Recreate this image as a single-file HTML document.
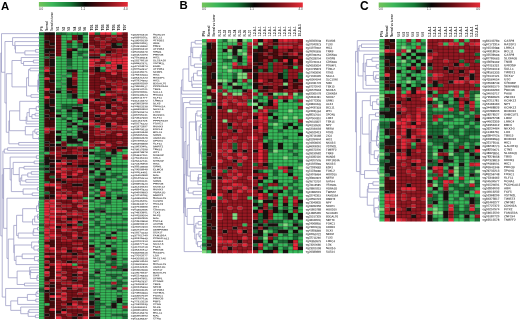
<!DOCTYPE html>
<html><head><meta charset="utf-8"><title>Methylation heatmaps</title><style>
html,body{margin:0;padding:0;background:#fff;}
body{width:520px;height:321px;overflow:hidden;}
svg{display:block;filter:blur(0.3px);}
text{font-family:"Liberation Sans",sans-serif;}
</style></head><body>
<svg width="520" height="321" viewBox="0 0 520 321">
<g font-size="30" fill="#3a3a3a" font-weight="normal">
<path fill="#36b85a" d="M39 34.95h5.3v31.86h-5.3zM39 69.46h5.3v2.65h-5.3zM39 74.77h5.3v76.98h-5.3zM39 154.41h5.3v5.31h-5.3zM39 170.34h5.3v26.55h-5.3zM39 199.54h5.3v23.89h-5.3zM39 226.09h5.3v5.31h-5.3zM39 234.05h5.3v53.09h-5.3zM39 292.45h5.3v26.55h-5.3zM44.3 151.76h5.3v2.65h-5.3zM44.3 303.07h5.3v2.65h-5.3zM55.9 56.19h5.38v23.89h-5.38zM55.9 82.74h5.38v5.31h-5.38zM55.9 93.36h5.38v15.93h-5.38zM55.9 111.94h5.38v2.65h-5.38zM55.9 117.25h5.38v13.27h-5.38zM55.9 133.18h5.38v2.65h-5.38zM55.9 141.14h5.38v2.65h-5.38zM61.28 34.95h5.38v39.82h-5.38zM61.28 77.43h5.38v5.31h-5.38zM61.28 85.39h5.38v18.58h-5.38zM61.28 109.28h5.38v7.96h-5.38zM61.28 119.9h5.38v21.24h-5.38zM66.67 34.95h5.38v5.31h-5.38zM66.67 74.77h5.38v2.65h-5.38zM66.67 98.67h5.38v5.31h-5.38zM66.67 117.25h5.38v2.65h-5.38zM66.67 127.87h5.38v2.65h-5.38zM66.67 133.18h5.38v2.65h-5.38zM66.67 143.79h5.38v2.65h-5.38zM72.05 40.26h5.38v7.96h-5.38zM72.05 50.88h5.38v18.58h-5.38zM72.05 98.67h5.38v5.31h-5.38zM72.05 111.94h5.38v10.62h-5.38zM72.05 125.21h5.38v10.62h-5.38zM72.05 143.79h5.38v2.65h-5.38zM72.05 263.25h5.38v2.65h-5.38zM77.43 48.23h5.38v2.65h-5.38zM77.43 56.19h5.38v42.47h-5.38zM77.43 119.9h5.38v5.31h-5.38zM77.43 138.49h5.38v2.65h-5.38zM82.82 34.95h5.38v7.96h-5.38zM82.82 48.23h5.38v2.65h-5.38zM82.82 53.54h5.38v2.65h-5.38zM82.82 58.85h5.38v10.62h-5.38zM82.82 72.12h5.38v26.55h-5.38zM82.82 103.97h5.38v7.96h-5.38zM82.82 122.56h5.38v2.65h-5.38zM82.82 141.14h5.38v5.31h-5.38zM82.82 196.89h5.38v2.65h-5.38zM89.1 149.1h5.53v2.65h-5.53zM89.1 154.41h5.53v5.31h-5.53zM89.1 167.69h5.53v2.65h-5.53zM89.1 175.65h5.53v2.65h-5.53zM89.1 186.27h5.53v2.65h-5.53zM89.1 191.58h5.53v2.65h-5.53zM89.1 196.89h5.53v2.65h-5.53zM89.1 202.2h5.53v7.96h-5.53zM89.1 212.81h5.53v5.31h-5.53zM89.1 220.78h5.53v5.31h-5.53zM89.1 228.74h5.53v5.31h-5.53zM89.1 236.71h5.53v2.65h-5.53zM89.1 242.02h5.53v2.65h-5.53zM89.1 252.63h5.53v2.65h-5.53zM89.1 257.94h5.53v15.93h-5.53zM89.1 279.18h5.53v2.65h-5.53zM89.1 284.49h5.53v2.65h-5.53zM94.63 146.45h5.53v5.31h-5.53zM94.63 157.07h5.53v2.65h-5.53zM94.63 170.34h5.53v5.31h-5.53zM94.63 188.92h5.53v2.65h-5.53zM94.63 194.23h5.53v2.65h-5.53zM94.63 199.54h5.53v7.96h-5.53zM94.63 212.81h5.53v2.65h-5.53zM94.63 218.12h5.53v2.65h-5.53zM94.63 226.09h5.53v7.96h-5.53zM94.63 236.71h5.53v10.62h-5.53zM94.63 249.98h5.53v2.65h-5.53zM94.63 255.29h5.53v2.65h-5.53zM94.63 263.25h5.53v5.31h-5.53zM94.63 273.87h5.53v2.65h-5.53zM94.63 279.18h5.53v13.27h-5.53zM94.63 295.11h5.53v2.65h-5.53zM100.16 53.54h5.53v2.65h-5.53zM100.16 66.81h5.53v2.65h-5.53zM100.16 93.36h5.53v2.65h-5.53zM100.16 159.72h5.53v5.31h-5.53zM100.16 167.69h5.53v2.65h-5.53zM100.16 180.96h5.53v5.31h-5.53zM100.16 196.89h5.53v5.31h-5.53zM100.16 204.85h5.53v2.65h-5.53zM100.16 212.81h5.53v13.27h-5.53zM100.16 228.74h5.53v2.65h-5.53zM100.16 234.05h5.53v7.96h-5.53zM100.16 244.67h5.53v5.31h-5.53zM100.16 252.63h5.53v7.96h-5.53zM100.16 263.25h5.53v18.58h-5.53zM100.16 284.49h5.53v18.58h-5.53zM100.16 305.73h5.53v13.27h-5.53zM105.69 151.76h5.53v2.65h-5.53zM105.69 170.34h5.53v5.31h-5.53zM105.69 178.3h5.53v2.65h-5.53zM105.69 183.61h5.53v7.96h-5.53zM105.69 204.85h5.53v7.96h-5.53zM105.69 215.47h5.53v2.65h-5.53zM105.69 220.78h5.53v2.65h-5.53zM105.69 226.09h5.53v7.96h-5.53zM105.69 239.36h5.53v5.31h-5.53zM105.69 247.32h5.53v7.96h-5.53zM105.69 260.6h5.53v2.65h-5.53zM105.69 265.91h5.53v2.65h-5.53zM105.69 271.22h5.53v2.65h-5.53zM105.69 276.53h5.53v5.31h-5.53zM105.69 284.49h5.53v2.65h-5.53zM105.69 289.8h5.53v15.93h-5.53zM105.69 308.38h5.53v10.62h-5.53zM111.21 32.3h5.53v2.65h-5.53zM111.21 157.07h5.53v7.96h-5.53zM111.21 167.69h5.53v5.31h-5.53zM111.21 178.3h5.53v10.62h-5.53zM111.21 191.58h5.53v21.24h-5.53zM111.21 215.47h5.53v7.96h-5.53zM111.21 226.09h5.53v5.31h-5.53zM111.21 234.05h5.53v2.65h-5.53zM111.21 239.36h5.53v2.65h-5.53zM111.21 244.67h5.53v2.65h-5.53zM111.21 271.22h5.53v2.65h-5.53zM111.21 279.18h5.53v2.65h-5.53zM111.21 289.8h5.53v10.62h-5.53zM111.21 308.38h5.53v5.31h-5.53zM111.21 316.35h5.53v2.65h-5.53zM116.74 151.76h5.53v13.27h-5.53zM116.74 167.69h5.53v5.31h-5.53zM116.74 175.65h5.53v2.65h-5.53zM116.74 180.96h5.53v7.96h-5.53zM116.74 191.58h5.53v2.65h-5.53zM116.74 199.54h5.53v13.27h-5.53zM116.74 215.47h5.53v7.96h-5.53zM116.74 226.09h5.53v2.65h-5.53zM116.74 231.4h5.53v34.51h-5.53zM116.74 271.22h5.53v2.65h-5.53zM116.74 276.53h5.53v2.65h-5.53zM116.74 287.14h5.53v2.65h-5.53zM116.74 292.45h5.53v2.65h-5.53zM116.74 303.07h5.53v10.62h-5.53zM116.74 316.35h5.53v2.65h-5.53zM122.27 149.1h5.53v5.31h-5.53zM122.27 159.72h5.53v5.31h-5.53zM122.27 167.69h5.53v7.96h-5.53zM122.27 178.3h5.53v5.31h-5.53zM122.27 186.27h5.53v7.96h-5.53zM122.27 202.2h5.53v5.31h-5.53zM122.27 210.16h5.53v7.96h-5.53zM122.27 220.78h5.53v2.65h-5.53zM122.27 226.09h5.53v2.65h-5.53zM122.27 231.4h5.53v7.96h-5.53zM122.27 242.02h5.53v15.93h-5.53zM122.27 260.6h5.53v2.65h-5.53zM122.27 271.22h5.53v5.31h-5.53zM122.27 279.18h5.53v2.65h-5.53zM122.27 284.49h5.53v2.65h-5.53zM122.27 289.8h5.53v13.27h-5.53zM122.27 311.04h5.53v2.65h-5.53z"/>
<path fill="#259a4a" d="M39 66.81h5.3v2.65h-5.3zM39 72.12h5.3v2.65h-5.3zM39 151.76h5.3v2.65h-5.3zM39 159.72h5.3v2.65h-5.3zM39 165.03h5.3v2.65h-5.3zM55.9 80.08h5.38v2.65h-5.38zM61.28 74.77h5.38v2.65h-5.38zM61.28 82.74h5.38v2.65h-5.38zM66.67 32.3h5.38v2.65h-5.38zM66.67 66.81h5.38v2.65h-5.38zM72.05 32.3h5.38v2.65h-5.38zM77.43 32.3h5.38v2.65h-5.38z"/>
<path fill="#1a6c36" d="M39 32.3h5.3v2.65h-5.3zM39 162.38h5.3v2.65h-5.3zM39 167.69h5.3v2.65h-5.3zM39 196.89h5.3v2.65h-5.3zM39 223.43h5.3v2.65h-5.3zM39 231.4h5.3v2.65h-5.3zM39 287.14h5.3v5.31h-5.3zM44.3 56.19h5.3v2.65h-5.3zM44.3 165.03h5.3v2.65h-5.3zM44.3 170.34h5.3v2.65h-5.3zM44.3 180.96h5.3v2.65h-5.3zM44.3 191.58h5.3v2.65h-5.3zM49.6 175.65h5.3v2.65h-5.3zM55.9 32.3h5.38v2.65h-5.38zM55.9 88.05h5.38v2.65h-5.38zM55.9 109.28h5.38v2.65h-5.38zM61.28 32.3h5.38v2.65h-5.38zM61.28 103.97h5.38v5.31h-5.38zM61.28 117.25h5.38v2.65h-5.38zM66.67 42.92h5.38v5.31h-5.38zM66.67 58.85h5.38v7.96h-5.38zM66.67 72.12h5.38v2.65h-5.38zM66.67 93.36h5.38v5.31h-5.38zM66.67 103.97h5.38v5.31h-5.38zM66.67 111.94h5.38v5.31h-5.38zM66.67 122.56h5.38v2.65h-5.38zM66.67 130.52h5.38v2.65h-5.38zM72.05 103.97h5.38v2.65h-5.38zM72.05 109.28h5.38v2.65h-5.38zM72.05 135.83h5.38v2.65h-5.38zM77.43 42.92h5.38v5.31h-5.38zM77.43 50.88h5.38v5.31h-5.38zM77.43 103.97h5.38v2.65h-5.38zM77.43 111.94h5.38v5.31h-5.38zM77.43 127.87h5.38v2.65h-5.38zM77.43 143.79h5.38v2.65h-5.38zM77.43 223.43h5.38v2.65h-5.38zM82.82 32.3h5.38v2.65h-5.38zM82.82 50.88h5.38v2.65h-5.38zM82.82 56.19h5.38v2.65h-5.38zM82.82 69.46h5.38v2.65h-5.38zM82.82 117.25h5.38v2.65h-5.38zM82.82 130.52h5.38v2.65h-5.38zM89.1 159.72h5.53v2.65h-5.53zM89.1 165.03h5.53v2.65h-5.53zM89.1 173h5.53v2.65h-5.53zM89.1 178.3h5.53v5.31h-5.53zM89.1 188.92h5.53v2.65h-5.53zM89.1 194.23h5.53v2.65h-5.53zM89.1 199.54h5.53v2.65h-5.53zM89.1 218.12h5.53v2.65h-5.53zM89.1 226.09h5.53v2.65h-5.53zM89.1 234.05h5.53v2.65h-5.53zM89.1 239.36h5.53v2.65h-5.53zM89.1 273.87h5.53v5.31h-5.53zM89.1 281.84h5.53v2.65h-5.53zM89.1 289.8h5.53v2.65h-5.53zM89.1 295.11h5.53v5.31h-5.53zM94.63 32.3h5.53v2.65h-5.53zM94.63 125.21h5.53v2.65h-5.53zM94.63 151.76h5.53v5.31h-5.53zM94.63 162.38h5.53v5.31h-5.53zM94.63 175.65h5.53v2.65h-5.53zM94.63 180.96h5.53v7.96h-5.53zM94.63 191.58h5.53v2.65h-5.53zM94.63 207.51h5.53v5.31h-5.53zM94.63 215.47h5.53v2.65h-5.53zM94.63 220.78h5.53v5.31h-5.53zM94.63 234.05h5.53v2.65h-5.53zM94.63 247.32h5.53v2.65h-5.53zM94.63 252.63h5.53v2.65h-5.53zM94.63 257.94h5.53v5.31h-5.53zM94.63 268.56h5.53v2.65h-5.53zM94.63 276.53h5.53v2.65h-5.53zM94.63 292.45h5.53v2.65h-5.53zM94.63 300.42h5.53v10.62h-5.53zM94.63 313.69h5.53v2.65h-5.53zM100.16 69.46h5.53v2.65h-5.53zM100.16 149.1h5.53v10.62h-5.53zM100.16 165.03h5.53v2.65h-5.53zM100.16 170.34h5.53v2.65h-5.53zM100.16 175.65h5.53v2.65h-5.53zM100.16 202.2h5.53v2.65h-5.53zM100.16 207.51h5.53v2.65h-5.53zM100.16 226.09h5.53v2.65h-5.53zM100.16 231.4h5.53v2.65h-5.53zM100.16 242.02h5.53v2.65h-5.53zM100.16 249.98h5.53v2.65h-5.53zM100.16 260.6h5.53v2.65h-5.53zM100.16 281.84h5.53v2.65h-5.53zM100.16 303.07h5.53v2.65h-5.53zM105.69 61.5h5.53v2.65h-5.53zM105.69 154.41h5.53v2.65h-5.53zM105.69 165.03h5.53v2.65h-5.53zM105.69 175.65h5.53v2.65h-5.53zM105.69 180.96h5.53v2.65h-5.53zM105.69 191.58h5.53v5.31h-5.53zM105.69 199.54h5.53v5.31h-5.53zM105.69 212.81h5.53v2.65h-5.53zM105.69 218.12h5.53v2.65h-5.53zM105.69 223.43h5.53v2.65h-5.53zM105.69 234.05h5.53v2.65h-5.53zM105.69 255.29h5.53v5.31h-5.53zM105.69 263.25h5.53v2.65h-5.53zM105.69 268.56h5.53v2.65h-5.53zM105.69 273.87h5.53v2.65h-5.53zM105.69 281.84h5.53v2.65h-5.53zM105.69 287.14h5.53v2.65h-5.53zM105.69 305.73h5.53v2.65h-5.53zM111.21 154.41h5.53v2.65h-5.53zM111.21 165.03h5.53v2.65h-5.53zM111.21 173h5.53v5.31h-5.53zM111.21 188.92h5.53v2.65h-5.53zM111.21 212.81h5.53v2.65h-5.53zM111.21 223.43h5.53v2.65h-5.53zM111.21 242.02h5.53v2.65h-5.53zM111.21 247.32h5.53v2.65h-5.53zM111.21 255.29h5.53v2.65h-5.53zM111.21 260.6h5.53v5.31h-5.53zM111.21 268.56h5.53v2.65h-5.53zM111.21 273.87h5.53v5.31h-5.53zM111.21 284.49h5.53v2.65h-5.53zM111.21 300.42h5.53v2.65h-5.53zM111.21 313.69h5.53v2.65h-5.53zM116.74 42.92h5.53v2.65h-5.53zM116.74 165.03h5.53v2.65h-5.53zM116.74 173h5.53v2.65h-5.53zM116.74 178.3h5.53v2.65h-5.53zM116.74 188.92h5.53v2.65h-5.53zM116.74 194.23h5.53v2.65h-5.53zM116.74 212.81h5.53v2.65h-5.53zM116.74 223.43h5.53v2.65h-5.53zM116.74 228.74h5.53v2.65h-5.53zM116.74 265.91h5.53v5.31h-5.53zM116.74 273.87h5.53v2.65h-5.53zM116.74 279.18h5.53v7.96h-5.53zM116.74 289.8h5.53v2.65h-5.53zM116.74 295.11h5.53v2.65h-5.53zM116.74 313.69h5.53v2.65h-5.53zM122.27 165.03h5.53v2.65h-5.53zM122.27 175.65h5.53v2.65h-5.53zM122.27 183.61h5.53v2.65h-5.53zM122.27 194.23h5.53v7.96h-5.53zM122.27 207.51h5.53v2.65h-5.53zM122.27 218.12h5.53v2.65h-5.53zM122.27 223.43h5.53v2.65h-5.53zM122.27 228.74h5.53v2.65h-5.53zM122.27 239.36h5.53v2.65h-5.53zM122.27 257.94h5.53v2.65h-5.53zM122.27 263.25h5.53v5.31h-5.53zM122.27 276.53h5.53v2.65h-5.53zM122.27 281.84h5.53v2.65h-5.53zM122.27 303.07h5.53v2.65h-5.53zM122.27 308.38h5.53v2.65h-5.53zM122.27 313.69h5.53v5.31h-5.53z"/>
<path fill="#1a1210" d="M44.3 32.3h5.3v2.65h-5.3zM44.3 40.26h5.3v2.65h-5.3zM44.3 48.23h5.3v5.31h-5.3zM44.3 103.97h5.3v5.31h-5.3zM44.3 114.59h5.3v2.65h-5.3zM44.3 141.14h5.3v2.65h-5.3zM44.3 146.45h5.3v5.31h-5.3zM44.3 157.07h5.3v7.96h-5.3zM44.3 167.69h5.3v2.65h-5.3zM44.3 196.89h5.3v2.65h-5.3zM44.3 289.8h5.3v2.65h-5.3zM44.3 313.69h5.3v2.65h-5.3zM49.6 32.3h5.3v2.65h-5.3zM49.6 42.92h5.3v2.65h-5.3zM49.6 48.23h5.3v2.65h-5.3zM49.6 53.54h5.3v2.65h-5.3zM49.6 58.85h5.3v7.96h-5.3zM49.6 72.12h5.3v2.65h-5.3zM49.6 80.08h5.3v2.65h-5.3zM49.6 90.7h5.3v2.65h-5.3zM49.6 98.67h5.3v5.31h-5.3zM49.6 106.63h5.3v5.31h-5.3zM49.6 117.25h5.3v2.65h-5.3zM49.6 143.79h5.3v2.65h-5.3zM49.6 159.72h5.3v2.65h-5.3zM49.6 165.03h5.3v2.65h-5.3zM49.6 170.34h5.3v2.65h-5.3zM49.6 194.23h5.3v2.65h-5.3zM49.6 284.49h5.3v2.65h-5.3zM49.6 292.45h5.3v2.65h-5.3zM49.6 297.76h5.3v2.65h-5.3zM55.9 90.7h5.38v2.65h-5.38zM55.9 114.59h5.38v2.65h-5.38zM55.9 130.52h5.38v2.65h-5.38zM55.9 135.83h5.38v5.31h-5.38zM55.9 143.79h5.38v2.65h-5.38zM55.9 159.72h5.38v2.65h-5.38zM55.9 178.3h5.38v2.65h-5.38zM55.9 226.09h5.38v2.65h-5.38zM55.9 311.04h5.38v2.65h-5.38zM61.28 146.45h5.38v2.65h-5.38zM61.28 154.41h5.38v2.65h-5.38zM61.28 180.96h5.38v2.65h-5.38zM61.28 308.38h5.38v2.65h-5.38zM66.67 50.88h5.38v7.96h-5.38zM66.67 69.46h5.38v2.65h-5.38zM66.67 77.43h5.38v10.62h-5.38zM66.67 90.7h5.38v2.65h-5.38zM66.67 109.28h5.38v2.65h-5.38zM66.67 119.9h5.38v2.65h-5.38zM66.67 125.21h5.38v2.65h-5.38zM66.67 135.83h5.38v7.96h-5.38zM66.67 154.41h5.38v5.31h-5.38zM66.67 162.38h5.38v2.65h-5.38zM66.67 175.65h5.38v2.65h-5.38zM66.67 196.89h5.38v2.65h-5.38zM66.67 218.12h5.38v2.65h-5.38zM66.67 223.43h5.38v2.65h-5.38zM66.67 249.98h5.38v2.65h-5.38zM66.67 260.6h5.38v2.65h-5.38zM66.67 287.14h5.38v2.65h-5.38zM66.67 303.07h5.38v2.65h-5.38zM72.05 48.23h5.38v2.65h-5.38zM72.05 69.46h5.38v2.65h-5.38zM72.05 85.39h5.38v2.65h-5.38zM72.05 93.36h5.38v5.31h-5.38zM72.05 106.63h5.38v2.65h-5.38zM72.05 122.56h5.38v2.65h-5.38zM72.05 138.49h5.38v5.31h-5.38zM72.05 154.41h5.38v5.31h-5.38zM72.05 183.61h5.38v2.65h-5.38zM72.05 252.63h5.38v2.65h-5.38zM72.05 273.87h5.38v2.65h-5.38zM72.05 279.18h5.38v2.65h-5.38zM72.05 297.76h5.38v2.65h-5.38zM72.05 316.35h5.38v2.65h-5.38zM77.43 34.95h5.38v5.31h-5.38zM77.43 106.63h5.38v5.31h-5.38zM77.43 117.25h5.38v2.65h-5.38zM77.43 125.21h5.38v2.65h-5.38zM77.43 130.52h5.38v7.96h-5.38zM77.43 141.14h5.38v2.65h-5.38zM77.43 165.03h5.38v2.65h-5.38zM77.43 183.61h5.38v2.65h-5.38zM77.43 220.78h5.38v2.65h-5.38zM77.43 236.71h5.38v2.65h-5.38zM77.43 297.76h5.38v2.65h-5.38zM77.43 313.69h5.38v2.65h-5.38zM82.82 42.92h5.38v5.31h-5.38zM82.82 98.67h5.38v5.31h-5.38zM82.82 111.94h5.38v5.31h-5.38zM82.82 119.9h5.38v2.65h-5.38zM82.82 125.21h5.38v5.31h-5.38zM82.82 133.18h5.38v7.96h-5.38zM82.82 149.1h5.38v2.65h-5.38zM82.82 154.41h5.38v2.65h-5.38zM82.82 165.03h5.38v2.65h-5.38zM89.1 56.19h5.53v2.65h-5.53zM89.1 151.76h5.53v2.65h-5.53zM89.1 162.38h5.53v2.65h-5.53zM89.1 170.34h5.53v2.65h-5.53zM89.1 183.61h5.53v2.65h-5.53zM89.1 210.16h5.53v2.65h-5.53zM89.1 244.67h5.53v2.65h-5.53zM89.1 255.29h5.53v2.65h-5.53zM89.1 292.45h5.53v2.65h-5.53zM89.1 300.42h5.53v5.31h-5.53zM89.1 308.38h5.53v5.31h-5.53zM89.1 316.35h5.53v2.65h-5.53zM94.63 56.19h5.53v2.65h-5.53zM94.63 66.81h5.53v5.31h-5.53zM94.63 98.67h5.53v2.65h-5.53zM94.63 114.59h5.53v2.65h-5.53zM94.63 119.9h5.53v2.65h-5.53zM94.63 159.72h5.53v2.65h-5.53zM94.63 167.69h5.53v2.65h-5.53zM94.63 178.3h5.53v2.65h-5.53zM94.63 196.89h5.53v2.65h-5.53zM94.63 271.22h5.53v2.65h-5.53zM94.63 297.76h5.53v2.65h-5.53zM94.63 316.35h5.53v2.65h-5.53zM100.16 90.7h5.53v2.65h-5.53zM100.16 173h5.53v2.65h-5.53zM100.16 178.3h5.53v2.65h-5.53zM100.16 188.92h5.53v2.65h-5.53zM100.16 210.16h5.53v2.65h-5.53zM105.69 50.88h5.53v2.65h-5.53zM105.69 88.05h5.53v2.65h-5.53zM105.69 103.97h5.53v5.31h-5.53zM105.69 122.56h5.53v5.31h-5.53zM105.69 157.07h5.53v2.65h-5.53zM105.69 167.69h5.53v2.65h-5.53zM105.69 196.89h5.53v2.65h-5.53zM105.69 236.71h5.53v2.65h-5.53zM105.69 244.67h5.53v2.65h-5.53zM111.21 42.92h5.53v5.31h-5.53zM111.21 98.67h5.53v2.65h-5.53zM111.21 149.1h5.53v5.31h-5.53zM111.21 231.4h5.53v2.65h-5.53zM111.21 249.98h5.53v2.65h-5.53zM111.21 257.94h5.53v2.65h-5.53zM111.21 287.14h5.53v2.65h-5.53zM111.21 303.07h5.53v5.31h-5.53zM116.74 45.57h5.53v2.65h-5.53zM116.74 64.16h5.53v5.31h-5.53zM116.74 146.45h5.53v2.65h-5.53zM116.74 196.89h5.53v2.65h-5.53zM116.74 297.76h5.53v5.31h-5.53zM122.27 146.45h5.53v2.65h-5.53zM122.27 268.56h5.53v2.65h-5.53z"/>
<path fill="#4a0c0e" d="M44.3 34.95h5.3v5.31h-5.3zM44.3 42.92h5.3v5.31h-5.3zM44.3 53.54h5.3v2.65h-5.3zM44.3 58.85h5.3v7.96h-5.3zM44.3 72.12h5.3v5.31h-5.3zM44.3 80.08h5.3v7.96h-5.3zM44.3 90.7h5.3v5.31h-5.3zM44.3 98.67h5.3v5.31h-5.3zM44.3 109.28h5.3v5.31h-5.3zM44.3 117.25h5.3v10.62h-5.3zM44.3 133.18h5.3v7.96h-5.3zM44.3 143.79h5.3v2.65h-5.3zM44.3 154.41h5.3v2.65h-5.3zM44.3 173h5.3v7.96h-5.3zM44.3 186.27h5.3v5.31h-5.3zM44.3 194.23h5.3v2.65h-5.3zM44.3 242.02h5.3v2.65h-5.3zM44.3 252.63h5.3v2.65h-5.3zM44.3 257.94h5.3v2.65h-5.3zM44.3 263.25h5.3v2.65h-5.3zM44.3 268.56h5.3v2.65h-5.3zM44.3 276.53h5.3v5.31h-5.3zM44.3 284.49h5.3v2.65h-5.3zM44.3 292.45h5.3v10.62h-5.3zM44.3 305.73h5.3v7.96h-5.3zM44.3 316.35h5.3v2.65h-5.3zM49.6 34.95h5.3v7.96h-5.3zM49.6 45.57h5.3v2.65h-5.3zM49.6 50.88h5.3v2.65h-5.3zM49.6 56.19h5.3v2.65h-5.3zM49.6 66.81h5.3v5.31h-5.3zM49.6 74.77h5.3v5.31h-5.3zM49.6 82.74h5.3v7.96h-5.3zM49.6 93.36h5.3v5.31h-5.3zM49.6 103.97h5.3v2.65h-5.3zM49.6 111.94h5.3v5.31h-5.3zM49.6 119.9h5.3v7.96h-5.3zM49.6 130.52h5.3v13.27h-5.3zM49.6 146.45h5.3v5.31h-5.3zM49.6 154.41h5.3v5.31h-5.3zM49.6 162.38h5.3v2.65h-5.3zM49.6 167.69h5.3v2.65h-5.3zM49.6 173h5.3v2.65h-5.3zM49.6 178.3h5.3v5.31h-5.3zM49.6 186.27h5.3v7.96h-5.3zM49.6 196.89h5.3v2.65h-5.3zM49.6 239.36h5.3v7.96h-5.3zM49.6 252.63h5.3v2.65h-5.3zM49.6 257.94h5.3v5.31h-5.3zM49.6 265.91h5.3v13.27h-5.3zM49.6 281.84h5.3v2.65h-5.3zM49.6 287.14h5.3v5.31h-5.3zM49.6 300.42h5.3v7.96h-5.3zM49.6 311.04h5.3v7.96h-5.3z"/>
<path fill="#7a1018" d="M55.9 34.95h5.38v21.24h-5.38zM55.9 146.45h5.38v5.31h-5.38zM55.9 157.07h5.38v2.65h-5.38zM55.9 167.69h5.38v2.65h-5.38zM55.9 173h5.38v5.31h-5.38zM55.9 180.96h5.38v2.65h-5.38zM55.9 188.92h5.38v2.65h-5.38zM55.9 199.54h5.38v2.65h-5.38zM55.9 204.85h5.38v2.65h-5.38zM55.9 212.81h5.38v2.65h-5.38zM55.9 218.12h5.38v5.31h-5.38zM55.9 228.74h5.38v5.31h-5.38zM55.9 236.71h5.38v13.27h-5.38zM55.9 252.63h5.38v7.96h-5.38zM55.9 271.22h5.38v2.65h-5.38zM55.9 276.53h5.38v2.65h-5.38zM55.9 281.84h5.38v7.96h-5.38zM55.9 292.45h5.38v2.65h-5.38zM55.9 297.76h5.38v13.27h-5.38zM55.9 313.69h5.38v2.65h-5.38zM61.28 141.14h5.38v5.31h-5.38zM61.28 151.76h5.38v2.65h-5.38zM61.28 157.07h5.38v2.65h-5.38zM61.28 165.03h5.38v2.65h-5.38zM61.28 178.3h5.38v2.65h-5.38zM61.28 183.61h5.38v5.31h-5.38zM61.28 191.58h5.38v2.65h-5.38zM61.28 199.54h5.38v5.31h-5.38zM61.28 207.51h5.38v2.65h-5.38zM61.28 212.81h5.38v2.65h-5.38zM61.28 220.78h5.38v2.65h-5.38zM61.28 231.4h5.38v5.31h-5.38zM61.28 242.02h5.38v5.31h-5.38zM61.28 252.63h5.38v2.65h-5.38zM61.28 257.94h5.38v5.31h-5.38zM61.28 265.91h5.38v5.31h-5.38zM61.28 273.87h5.38v2.65h-5.38zM61.28 279.18h5.38v2.65h-5.38zM61.28 284.49h5.38v2.65h-5.38zM61.28 289.8h5.38v2.65h-5.38zM61.28 300.42h5.38v2.65h-5.38zM61.28 305.73h5.38v2.65h-5.38zM61.28 313.69h5.38v5.31h-5.38zM66.67 40.26h5.38v2.65h-5.38zM66.67 48.23h5.38v2.65h-5.38zM66.67 88.05h5.38v2.65h-5.38zM66.67 146.45h5.38v7.96h-5.38zM66.67 159.72h5.38v2.65h-5.38zM66.67 165.03h5.38v2.65h-5.38zM66.67 170.34h5.38v5.31h-5.38zM66.67 180.96h5.38v10.62h-5.38zM66.67 194.23h5.38v2.65h-5.38zM66.67 199.54h5.38v5.31h-5.38zM66.67 207.51h5.38v5.31h-5.38zM66.67 215.47h5.38v2.65h-5.38zM66.67 226.09h5.38v2.65h-5.38zM66.67 231.4h5.38v7.96h-5.38zM66.67 242.02h5.38v7.96h-5.38zM66.67 252.63h5.38v2.65h-5.38zM66.67 257.94h5.38v2.65h-5.38zM66.67 265.91h5.38v15.93h-5.38zM66.67 284.49h5.38v2.65h-5.38zM66.67 289.8h5.38v13.27h-5.38zM66.67 308.38h5.38v5.31h-5.38zM66.67 316.35h5.38v2.65h-5.38zM72.05 34.95h5.38v5.31h-5.38zM72.05 72.12h5.38v5.31h-5.38zM72.05 80.08h5.38v5.31h-5.38zM72.05 88.05h5.38v5.31h-5.38zM72.05 146.45h5.38v2.65h-5.38zM72.05 165.03h5.38v2.65h-5.38zM72.05 175.65h5.38v2.65h-5.38zM72.05 180.96h5.38v2.65h-5.38zM72.05 186.27h5.38v7.96h-5.38zM72.05 196.89h5.38v2.65h-5.38zM72.05 202.2h5.38v7.96h-5.38zM72.05 215.47h5.38v2.65h-5.38zM72.05 223.43h5.38v2.65h-5.38zM72.05 228.74h5.38v2.65h-5.38zM72.05 239.36h5.38v2.65h-5.38zM72.05 244.67h5.38v2.65h-5.38zM72.05 249.98h5.38v2.65h-5.38zM72.05 255.29h5.38v2.65h-5.38zM72.05 260.6h5.38v2.65h-5.38zM72.05 268.56h5.38v5.31h-5.38zM72.05 276.53h5.38v2.65h-5.38zM72.05 281.84h5.38v2.65h-5.38zM72.05 289.8h5.38v7.96h-5.38zM72.05 308.38h5.38v7.96h-5.38zM77.43 40.26h5.38v2.65h-5.38zM77.43 149.1h5.38v2.65h-5.38zM77.43 154.41h5.38v2.65h-5.38zM77.43 159.72h5.38v5.31h-5.38zM77.43 173h5.38v5.31h-5.38zM77.43 180.96h5.38v2.65h-5.38zM77.43 186.27h5.38v5.31h-5.38zM77.43 196.89h5.38v2.65h-5.38zM77.43 202.2h5.38v2.65h-5.38zM77.43 207.51h5.38v5.31h-5.38zM77.43 215.47h5.38v2.65h-5.38zM77.43 228.74h5.38v7.96h-5.38zM77.43 239.36h5.38v2.65h-5.38zM77.43 244.67h5.38v2.65h-5.38zM77.43 249.98h5.38v5.31h-5.38zM77.43 257.94h5.38v2.65h-5.38zM77.43 263.25h5.38v2.65h-5.38zM77.43 268.56h5.38v2.65h-5.38zM77.43 273.87h5.38v2.65h-5.38zM77.43 279.18h5.38v5.31h-5.38zM77.43 287.14h5.38v5.31h-5.38zM77.43 295.11h5.38v2.65h-5.38zM77.43 300.42h5.38v5.31h-5.38zM77.43 308.38h5.38v5.31h-5.38zM77.43 316.35h5.38v2.65h-5.38zM82.82 146.45h5.38v2.65h-5.38zM82.82 151.76h5.38v2.65h-5.38zM82.82 159.72h5.38v5.31h-5.38zM82.82 167.69h5.38v7.96h-5.38zM82.82 178.3h5.38v18.58h-5.38zM82.82 199.54h5.38v2.65h-5.38zM82.82 204.85h5.38v2.65h-5.38zM82.82 210.16h5.38v2.65h-5.38zM82.82 218.12h5.38v2.65h-5.38zM82.82 223.43h5.38v7.96h-5.38zM82.82 234.05h5.38v2.65h-5.38zM82.82 239.36h5.38v10.62h-5.38zM82.82 252.63h5.38v2.65h-5.38zM82.82 257.94h5.38v2.65h-5.38zM82.82 263.25h5.38v5.31h-5.38zM82.82 271.22h5.38v15.93h-5.38zM82.82 292.45h5.38v5.31h-5.38zM82.82 303.07h5.38v2.65h-5.38zM82.82 311.04h5.38v5.31h-5.38zM89.1 34.95h5.53v10.62h-5.53zM89.1 48.23h5.53v2.65h-5.53zM89.1 53.54h5.53v2.65h-5.53zM89.1 66.81h5.53v5.31h-5.53zM89.1 74.77h5.53v15.93h-5.53zM89.1 93.36h5.53v5.31h-5.53zM89.1 101.32h5.53v7.96h-5.53zM89.1 111.94h5.53v7.96h-5.53zM89.1 125.21h5.53v18.58h-5.53zM89.1 146.45h5.53v2.65h-5.53zM89.1 247.32h5.53v2.65h-5.53zM89.1 305.73h5.53v2.65h-5.53zM89.1 313.69h5.53v2.65h-5.53zM94.63 34.95h5.53v2.65h-5.53zM94.63 40.26h5.53v7.96h-5.53zM94.63 53.54h5.53v2.65h-5.53zM94.63 61.5h5.53v2.65h-5.53zM94.63 72.12h5.53v26.55h-5.53zM94.63 103.97h5.53v7.96h-5.53zM94.63 117.25h5.53v2.65h-5.53zM94.63 135.83h5.53v5.31h-5.53zM94.63 143.79h5.53v2.65h-5.53zM94.63 311.04h5.53v2.65h-5.53zM100.16 34.95h5.53v5.31h-5.53zM100.16 48.23h5.53v5.31h-5.53zM100.16 58.85h5.53v5.31h-5.53zM100.16 72.12h5.53v5.31h-5.53zM100.16 80.08h5.53v5.31h-5.53zM100.16 88.05h5.53v2.65h-5.53zM100.16 96.01h5.53v5.31h-5.53zM100.16 103.97h5.53v2.65h-5.53zM100.16 109.28h5.53v2.65h-5.53zM100.16 114.59h5.53v10.62h-5.53zM100.16 130.52h5.53v2.65h-5.53zM100.16 135.83h5.53v5.31h-5.53zM100.16 143.79h5.53v2.65h-5.53zM105.69 34.95h5.53v2.65h-5.53zM105.69 40.26h5.53v2.65h-5.53zM105.69 45.57h5.53v5.31h-5.53zM105.69 53.54h5.53v2.65h-5.53zM105.69 72.12h5.53v7.96h-5.53zM105.69 82.74h5.53v5.31h-5.53zM105.69 90.7h5.53v2.65h-5.53zM105.69 96.01h5.53v7.96h-5.53zM105.69 111.94h5.53v5.31h-5.53zM105.69 119.9h5.53v2.65h-5.53zM105.69 127.87h5.53v2.65h-5.53zM105.69 133.18h5.53v10.62h-5.53zM105.69 146.45h5.53v5.31h-5.53zM105.69 159.72h5.53v2.65h-5.53zM111.21 37.61h5.53v5.31h-5.53zM111.21 48.23h5.53v5.31h-5.53zM111.21 74.77h5.53v7.96h-5.53zM111.21 85.39h5.53v2.65h-5.53zM111.21 90.7h5.53v2.65h-5.53zM111.21 96.01h5.53v2.65h-5.53zM111.21 101.32h5.53v2.65h-5.53zM111.21 106.63h5.53v5.31h-5.53zM111.21 114.59h5.53v7.96h-5.53zM111.21 125.21h5.53v2.65h-5.53zM111.21 130.52h5.53v18.58h-5.53zM116.74 34.95h5.53v2.65h-5.53zM116.74 40.26h5.53v2.65h-5.53zM116.74 72.12h5.53v7.96h-5.53zM116.74 93.36h5.53v2.65h-5.53zM116.74 101.32h5.53v5.31h-5.53zM116.74 109.28h5.53v7.96h-5.53zM116.74 119.9h5.53v5.31h-5.53zM116.74 130.52h5.53v2.65h-5.53zM116.74 135.83h5.53v5.31h-5.53zM116.74 143.79h5.53v2.65h-5.53zM122.27 32.3h5.53v15.93h-5.53zM122.27 53.54h5.53v2.65h-5.53zM122.27 77.43h5.53v5.31h-5.53zM122.27 85.39h5.53v5.31h-5.53zM122.27 93.36h5.53v7.96h-5.53zM122.27 103.97h5.53v7.96h-5.53zM122.27 114.59h5.53v10.62h-5.53zM122.27 130.52h5.53v15.93h-5.53zM122.27 157.07h5.53v2.65h-5.53z"/>
<path fill="#b01a26" d="M44.3 66.81h5.3v2.65h-5.3zM44.3 130.52h5.3v2.65h-5.3zM44.3 199.54h5.3v2.65h-5.3zM44.3 215.47h5.3v2.65h-5.3zM44.3 223.43h5.3v5.31h-5.3zM44.3 234.05h5.3v2.65h-5.3zM44.3 239.36h5.3v2.65h-5.3zM44.3 247.32h5.3v5.31h-5.3zM44.3 260.6h5.3v2.65h-5.3zM44.3 273.87h5.3v2.65h-5.3zM44.3 281.84h5.3v2.65h-5.3zM49.6 127.87h5.3v2.65h-5.3zM49.6 151.76h5.3v2.65h-5.3zM49.6 202.2h5.3v2.65h-5.3zM49.6 207.51h5.3v2.65h-5.3zM49.6 212.81h5.3v2.65h-5.3zM49.6 218.12h5.3v2.65h-5.3zM49.6 223.43h5.3v2.65h-5.3zM49.6 228.74h5.3v5.31h-5.3zM49.6 236.71h5.3v2.65h-5.3zM49.6 249.98h5.3v2.65h-5.3zM49.6 255.29h5.3v2.65h-5.3zM49.6 263.25h5.3v2.65h-5.3zM49.6 279.18h5.3v2.65h-5.3zM55.9 151.76h5.38v5.31h-5.38zM55.9 165.03h5.38v2.65h-5.38zM55.9 183.61h5.38v2.65h-5.38zM55.9 191.58h5.38v2.65h-5.38zM55.9 196.89h5.38v2.65h-5.38zM55.9 202.2h5.38v2.65h-5.38zM55.9 207.51h5.38v2.65h-5.38zM55.9 215.47h5.38v2.65h-5.38zM55.9 223.43h5.38v2.65h-5.38zM55.9 234.05h5.38v2.65h-5.38zM55.9 249.98h5.38v2.65h-5.38zM55.9 260.6h5.38v2.65h-5.38zM55.9 279.18h5.38v2.65h-5.38zM55.9 289.8h5.38v2.65h-5.38zM61.28 149.1h5.38v2.65h-5.38zM61.28 159.72h5.38v2.65h-5.38zM61.28 170.34h5.38v2.65h-5.38zM61.28 188.92h5.38v2.65h-5.38zM61.28 204.85h5.38v2.65h-5.38zM61.28 218.12h5.38v2.65h-5.38zM61.28 223.43h5.38v5.31h-5.38zM61.28 236.71h5.38v5.31h-5.38zM61.28 247.32h5.38v2.65h-5.38zM61.28 255.29h5.38v2.65h-5.38zM61.28 271.22h5.38v2.65h-5.38zM61.28 281.84h5.38v2.65h-5.38zM61.28 295.11h5.38v2.65h-5.38zM61.28 303.07h5.38v2.65h-5.38zM66.67 167.69h5.38v2.65h-5.38zM66.67 178.3h5.38v2.65h-5.38zM66.67 191.58h5.38v2.65h-5.38zM66.67 204.85h5.38v2.65h-5.38zM66.67 212.81h5.38v2.65h-5.38zM66.67 220.78h5.38v2.65h-5.38zM66.67 228.74h5.38v2.65h-5.38zM66.67 239.36h5.38v2.65h-5.38zM66.67 255.29h5.38v2.65h-5.38zM66.67 281.84h5.38v2.65h-5.38zM66.67 305.73h5.38v2.65h-5.38zM66.67 313.69h5.38v2.65h-5.38zM72.05 77.43h5.38v2.65h-5.38zM72.05 149.1h5.38v5.31h-5.38zM72.05 159.72h5.38v5.31h-5.38zM72.05 167.69h5.38v5.31h-5.38zM72.05 178.3h5.38v2.65h-5.38zM72.05 194.23h5.38v2.65h-5.38zM72.05 210.16h5.38v2.65h-5.38zM72.05 218.12h5.38v2.65h-5.38zM72.05 231.4h5.38v2.65h-5.38zM72.05 236.71h5.38v2.65h-5.38zM72.05 242.02h5.38v2.65h-5.38zM72.05 247.32h5.38v2.65h-5.38zM72.05 257.94h5.38v2.65h-5.38zM72.05 265.91h5.38v2.65h-5.38zM72.05 287.14h5.38v2.65h-5.38zM72.05 300.42h5.38v2.65h-5.38zM72.05 305.73h5.38v2.65h-5.38zM77.43 101.32h5.38v2.65h-5.38zM77.43 146.45h5.38v2.65h-5.38zM77.43 151.76h5.38v2.65h-5.38zM77.43 157.07h5.38v2.65h-5.38zM77.43 167.69h5.38v2.65h-5.38zM77.43 178.3h5.38v2.65h-5.38zM77.43 194.23h5.38v2.65h-5.38zM77.43 199.54h5.38v2.65h-5.38zM77.43 212.81h5.38v2.65h-5.38zM77.43 218.12h5.38v2.65h-5.38zM77.43 226.09h5.38v2.65h-5.38zM77.43 242.02h5.38v2.65h-5.38zM77.43 255.29h5.38v2.65h-5.38zM77.43 260.6h5.38v2.65h-5.38zM77.43 276.53h5.38v2.65h-5.38zM77.43 292.45h5.38v2.65h-5.38zM82.82 157.07h5.38v2.65h-5.38zM82.82 175.65h5.38v2.65h-5.38zM82.82 202.2h5.38v2.65h-5.38zM82.82 207.51h5.38v2.65h-5.38zM82.82 212.81h5.38v5.31h-5.38zM82.82 220.78h5.38v2.65h-5.38zM82.82 231.4h5.38v2.65h-5.38zM82.82 236.71h5.38v2.65h-5.38zM82.82 249.98h5.38v2.65h-5.38zM82.82 255.29h5.38v2.65h-5.38zM82.82 260.6h5.38v2.65h-5.38zM82.82 268.56h5.38v2.65h-5.38zM82.82 287.14h5.38v5.31h-5.38zM82.82 297.76h5.38v2.65h-5.38zM82.82 305.73h5.38v2.65h-5.38zM89.1 45.57h5.53v2.65h-5.53zM89.1 50.88h5.53v2.65h-5.53zM89.1 72.12h5.53v2.65h-5.53zM89.1 90.7h5.53v2.65h-5.53zM89.1 109.28h5.53v2.65h-5.53zM89.1 119.9h5.53v2.65h-5.53zM89.1 143.79h5.53v2.65h-5.53zM89.1 249.98h5.53v2.65h-5.53zM89.1 287.14h5.53v2.65h-5.53zM94.63 37.61h5.53v2.65h-5.53zM94.63 48.23h5.53v5.31h-5.53zM94.63 64.16h5.53v2.65h-5.53zM94.63 101.32h5.53v2.65h-5.53zM94.63 111.94h5.53v2.65h-5.53zM94.63 122.56h5.53v2.65h-5.53zM94.63 127.87h5.53v7.96h-5.53zM94.63 141.14h5.53v2.65h-5.53zM100.16 40.26h5.53v7.96h-5.53zM100.16 56.19h5.53v2.65h-5.53zM100.16 77.43h5.53v2.65h-5.53zM100.16 85.39h5.53v2.65h-5.53zM100.16 101.32h5.53v2.65h-5.53zM100.16 106.63h5.53v2.65h-5.53zM100.16 133.18h5.53v2.65h-5.53zM100.16 146.45h5.53v2.65h-5.53zM100.16 186.27h5.53v2.65h-5.53zM100.16 194.23h5.53v2.65h-5.53zM105.69 37.61h5.53v2.65h-5.53zM105.69 42.92h5.53v2.65h-5.53zM105.69 56.19h5.53v2.65h-5.53zM105.69 66.81h5.53v2.65h-5.53zM105.69 80.08h5.53v2.65h-5.53zM105.69 109.28h5.53v2.65h-5.53zM105.69 117.25h5.53v2.65h-5.53zM105.69 130.52h5.53v2.65h-5.53zM111.21 34.95h5.53v2.65h-5.53zM111.21 53.54h5.53v5.31h-5.53zM111.21 69.46h5.53v2.65h-5.53zM111.21 82.74h5.53v2.65h-5.53zM111.21 88.05h5.53v2.65h-5.53zM111.21 93.36h5.53v2.65h-5.53zM111.21 103.97h5.53v2.65h-5.53zM111.21 127.87h5.53v2.65h-5.53zM111.21 236.71h5.53v2.65h-5.53zM111.21 252.63h5.53v2.65h-5.53zM111.21 265.91h5.53v2.65h-5.53zM111.21 281.84h5.53v2.65h-5.53zM116.74 37.61h5.53v2.65h-5.53zM116.74 48.23h5.53v10.62h-5.53zM116.74 69.46h5.53v2.65h-5.53zM116.74 80.08h5.53v7.96h-5.53zM116.74 90.7h5.53v2.65h-5.53zM116.74 96.01h5.53v2.65h-5.53zM116.74 106.63h5.53v2.65h-5.53zM116.74 117.25h5.53v2.65h-5.53zM116.74 125.21h5.53v5.31h-5.53zM116.74 141.14h5.53v2.65h-5.53zM116.74 149.1h5.53v2.65h-5.53zM122.27 48.23h5.53v5.31h-5.53zM122.27 72.12h5.53v5.31h-5.53zM122.27 82.74h5.53v2.65h-5.53zM122.27 90.7h5.53v2.65h-5.53zM122.27 101.32h5.53v2.65h-5.53zM122.27 111.94h5.53v2.65h-5.53zM122.27 127.87h5.53v2.65h-5.53zM122.27 154.41h5.53v2.65h-5.53zM122.27 287.14h5.53v2.65h-5.53zM122.27 305.73h5.53v2.65h-5.53z"/>
<path fill="#e8283a" d="M44.3 69.46h5.3v2.65h-5.3zM44.3 77.43h5.3v2.65h-5.3zM44.3 88.05h5.3v2.65h-5.3zM44.3 96.01h5.3v2.65h-5.3zM44.3 127.87h5.3v2.65h-5.3zM44.3 183.61h5.3v2.65h-5.3zM44.3 202.2h5.3v13.27h-5.3zM44.3 218.12h5.3v5.31h-5.3zM44.3 228.74h5.3v5.31h-5.3zM44.3 236.71h5.3v2.65h-5.3zM44.3 244.67h5.3v2.65h-5.3zM44.3 255.29h5.3v2.65h-5.3zM44.3 265.91h5.3v2.65h-5.3zM44.3 271.22h5.3v2.65h-5.3zM44.3 287.14h5.3v2.65h-5.3zM49.6 183.61h5.3v2.65h-5.3zM49.6 199.54h5.3v2.65h-5.3zM49.6 204.85h5.3v2.65h-5.3zM49.6 210.16h5.3v2.65h-5.3zM49.6 215.47h5.3v2.65h-5.3zM49.6 220.78h5.3v2.65h-5.3zM49.6 226.09h5.3v2.65h-5.3zM49.6 234.05h5.3v2.65h-5.3zM49.6 247.32h5.3v2.65h-5.3zM49.6 295.11h5.3v2.65h-5.3zM49.6 308.38h5.3v2.65h-5.3zM55.9 162.38h5.38v2.65h-5.38zM55.9 170.34h5.38v2.65h-5.38zM55.9 186.27h5.38v2.65h-5.38zM55.9 194.23h5.38v2.65h-5.38zM55.9 210.16h5.38v2.65h-5.38zM55.9 263.25h5.38v7.96h-5.38zM55.9 273.87h5.38v2.65h-5.38zM55.9 295.11h5.38v2.65h-5.38zM55.9 316.35h5.38v2.65h-5.38zM61.28 162.38h5.38v2.65h-5.38zM61.28 167.69h5.38v2.65h-5.38zM61.28 173h5.38v5.31h-5.38zM61.28 194.23h5.38v5.31h-5.38zM61.28 210.16h5.38v2.65h-5.38zM61.28 215.47h5.38v2.65h-5.38zM61.28 228.74h5.38v2.65h-5.38zM61.28 249.98h5.38v2.65h-5.38zM61.28 263.25h5.38v2.65h-5.38zM61.28 276.53h5.38v2.65h-5.38zM61.28 287.14h5.38v2.65h-5.38zM61.28 292.45h5.38v2.65h-5.38zM61.28 297.76h5.38v2.65h-5.38zM61.28 311.04h5.38v2.65h-5.38zM66.67 263.25h5.38v2.65h-5.38zM72.05 173h5.38v2.65h-5.38zM72.05 199.54h5.38v2.65h-5.38zM72.05 212.81h5.38v2.65h-5.38zM72.05 220.78h5.38v2.65h-5.38zM72.05 226.09h5.38v2.65h-5.38zM72.05 234.05h5.38v2.65h-5.38zM72.05 284.49h5.38v2.65h-5.38zM72.05 303.07h5.38v2.65h-5.38zM77.43 98.67h5.38v2.65h-5.38zM77.43 170.34h5.38v2.65h-5.38zM77.43 191.58h5.38v2.65h-5.38zM77.43 204.85h5.38v2.65h-5.38zM77.43 247.32h5.38v2.65h-5.38zM77.43 265.91h5.38v2.65h-5.38zM77.43 271.22h5.38v2.65h-5.38zM77.43 284.49h5.38v2.65h-5.38zM77.43 305.73h5.38v2.65h-5.38zM82.82 300.42h5.38v2.65h-5.38zM82.82 308.38h5.38v2.65h-5.38zM82.82 316.35h5.38v2.65h-5.38zM89.1 32.3h5.53v2.65h-5.53zM89.1 58.85h5.53v7.96h-5.53zM89.1 98.67h5.53v2.65h-5.53zM89.1 122.56h5.53v2.65h-5.53zM94.63 58.85h5.53v2.65h-5.53zM100.16 32.3h5.53v2.65h-5.53zM100.16 64.16h5.53v2.65h-5.53zM100.16 111.94h5.53v2.65h-5.53zM100.16 125.21h5.53v5.31h-5.53zM100.16 141.14h5.53v2.65h-5.53zM100.16 191.58h5.53v2.65h-5.53zM105.69 32.3h5.53v2.65h-5.53zM105.69 58.85h5.53v2.65h-5.53zM105.69 64.16h5.53v2.65h-5.53zM105.69 69.46h5.53v2.65h-5.53zM105.69 93.36h5.53v2.65h-5.53zM105.69 143.79h5.53v2.65h-5.53zM105.69 162.38h5.53v2.65h-5.53zM111.21 58.85h5.53v10.62h-5.53zM111.21 72.12h5.53v2.65h-5.53zM111.21 111.94h5.53v2.65h-5.53zM111.21 122.56h5.53v2.65h-5.53zM116.74 32.3h5.53v2.65h-5.53zM116.74 58.85h5.53v5.31h-5.53zM116.74 88.05h5.53v2.65h-5.53zM116.74 98.67h5.53v2.65h-5.53zM116.74 133.18h5.53v2.65h-5.53zM122.27 56.19h5.53v15.93h-5.53zM122.27 125.21h5.53v2.65h-5.53z"/>
<path fill="none" stroke="#140a08" stroke-opacity="0.55" stroke-width="0.55" d="M39 34.95H54.9M39 37.61H54.9M39 40.26H54.9M39 42.92H54.9M39 45.57H54.9M39 48.23H54.9M39 50.88H54.9M39 53.54H54.9M39 56.19H54.9M39 58.85H54.9M39 61.5H54.9M39 64.16H54.9M39 66.81H54.9M39 69.46H54.9M39 72.12H54.9M39 74.77H54.9M39 77.43H54.9M39 80.08H54.9M39 82.74H54.9M39 85.39H54.9M39 88.05H54.9M39 90.7H54.9M39 93.36H54.9M39 96.01H54.9M39 98.67H54.9M39 101.32H54.9M39 103.97H54.9M39 106.63H54.9M39 109.28H54.9M39 111.94H54.9M39 114.59H54.9M39 117.25H54.9M39 119.9H54.9M39 122.56H54.9M39 125.21H54.9M39 127.87H54.9M39 130.52H54.9M39 133.18H54.9M39 135.83H54.9M39 138.49H54.9M39 141.14H54.9M39 143.79H54.9M39 146.45H54.9M39 149.1H54.9M39 151.76H54.9M39 154.41H54.9M39 157.07H54.9M39 159.72H54.9M39 162.38H54.9M39 165.03H54.9M39 167.69H54.9M39 170.34H54.9M39 173H54.9M39 175.65H54.9M39 178.3H54.9M39 180.96H54.9M39 183.61H54.9M39 186.27H54.9M39 188.92H54.9M39 191.58H54.9M39 194.23H54.9M39 196.89H54.9M39 199.54H54.9M39 202.2H54.9M39 204.85H54.9M39 207.51H54.9M39 210.16H54.9M39 212.81H54.9M39 215.47H54.9M39 218.12H54.9M39 220.78H54.9M39 223.43H54.9M39 226.09H54.9M39 228.74H54.9M39 231.4H54.9M39 234.05H54.9M39 236.71H54.9M39 239.36H54.9M39 242.02H54.9M39 244.67H54.9M39 247.32H54.9M39 249.98H54.9M39 252.63H54.9M39 255.29H54.9M39 257.94H54.9M39 260.6H54.9M39 263.25H54.9M39 265.91H54.9M39 268.56H54.9M39 271.22H54.9M39 273.87H54.9M39 276.53H54.9M39 279.18H54.9M39 281.84H54.9M39 284.49H54.9M39 287.14H54.9M39 289.8H54.9M39 292.45H54.9M39 295.11H54.9M39 297.76H54.9M39 300.42H54.9M39 303.07H54.9M39 305.73H54.9M39 308.38H54.9M39 311.04H54.9M39 313.69H54.9M39 316.35H54.9M44.3 32.3V319M49.6 32.3V319M55.9 34.95H88.2M55.9 37.61H88.2M55.9 40.26H88.2M55.9 42.92H88.2M55.9 45.57H88.2M55.9 48.23H88.2M55.9 50.88H88.2M55.9 53.54H88.2M55.9 56.19H88.2M55.9 58.85H88.2M55.9 61.5H88.2M55.9 64.16H88.2M55.9 66.81H88.2M55.9 69.46H88.2M55.9 72.12H88.2M55.9 74.77H88.2M55.9 77.43H88.2M55.9 80.08H88.2M55.9 82.74H88.2M55.9 85.39H88.2M55.9 88.05H88.2M55.9 90.7H88.2M55.9 93.36H88.2M55.9 96.01H88.2M55.9 98.67H88.2M55.9 101.32H88.2M55.9 103.97H88.2M55.9 106.63H88.2M55.9 109.28H88.2M55.9 111.94H88.2M55.9 114.59H88.2M55.9 117.25H88.2M55.9 119.9H88.2M55.9 122.56H88.2M55.9 125.21H88.2M55.9 127.87H88.2M55.9 130.52H88.2M55.9 133.18H88.2M55.9 135.83H88.2M55.9 138.49H88.2M55.9 141.14H88.2M55.9 143.79H88.2M55.9 146.45H88.2M55.9 149.1H88.2M55.9 151.76H88.2M55.9 154.41H88.2M55.9 157.07H88.2M55.9 159.72H88.2M55.9 162.38H88.2M55.9 165.03H88.2M55.9 167.69H88.2M55.9 170.34H88.2M55.9 173H88.2M55.9 175.65H88.2M55.9 178.3H88.2M55.9 180.96H88.2M55.9 183.61H88.2M55.9 186.27H88.2M55.9 188.92H88.2M55.9 191.58H88.2M55.9 194.23H88.2M55.9 196.89H88.2M55.9 199.54H88.2M55.9 202.2H88.2M55.9 204.85H88.2M55.9 207.51H88.2M55.9 210.16H88.2M55.9 212.81H88.2M55.9 215.47H88.2M55.9 218.12H88.2M55.9 220.78H88.2M55.9 223.43H88.2M55.9 226.09H88.2M55.9 228.74H88.2M55.9 231.4H88.2M55.9 234.05H88.2M55.9 236.71H88.2M55.9 239.36H88.2M55.9 242.02H88.2M55.9 244.67H88.2M55.9 247.32H88.2M55.9 249.98H88.2M55.9 252.63H88.2M55.9 255.29H88.2M55.9 257.94H88.2M55.9 260.6H88.2M55.9 263.25H88.2M55.9 265.91H88.2M55.9 268.56H88.2M55.9 271.22H88.2M55.9 273.87H88.2M55.9 276.53H88.2M55.9 279.18H88.2M55.9 281.84H88.2M55.9 284.49H88.2M55.9 287.14H88.2M55.9 289.8H88.2M55.9 292.45H88.2M55.9 295.11H88.2M55.9 297.76H88.2M55.9 300.42H88.2M55.9 303.07H88.2M55.9 305.73H88.2M55.9 308.38H88.2M55.9 311.04H88.2M55.9 313.69H88.2M55.9 316.35H88.2M61.28 32.3V319M66.67 32.3V319M72.05 32.3V319M77.43 32.3V319M82.82 32.3V319M89.1 34.95H127.8M89.1 37.61H127.8M89.1 40.26H127.8M89.1 42.92H127.8M89.1 45.57H127.8M89.1 48.23H127.8M89.1 50.88H127.8M89.1 53.54H127.8M89.1 56.19H127.8M89.1 58.85H127.8M89.1 61.5H127.8M89.1 64.16H127.8M89.1 66.81H127.8M89.1 69.46H127.8M89.1 72.12H127.8M89.1 74.77H127.8M89.1 77.43H127.8M89.1 80.08H127.8M89.1 82.74H127.8M89.1 85.39H127.8M89.1 88.05H127.8M89.1 90.7H127.8M89.1 93.36H127.8M89.1 96.01H127.8M89.1 98.67H127.8M89.1 101.32H127.8M89.1 103.97H127.8M89.1 106.63H127.8M89.1 109.28H127.8M89.1 111.94H127.8M89.1 114.59H127.8M89.1 117.25H127.8M89.1 119.9H127.8M89.1 122.56H127.8M89.1 125.21H127.8M89.1 127.87H127.8M89.1 130.52H127.8M89.1 133.18H127.8M89.1 135.83H127.8M89.1 138.49H127.8M89.1 141.14H127.8M89.1 143.79H127.8M89.1 146.45H127.8M89.1 149.1H127.8M89.1 151.76H127.8M89.1 154.41H127.8M89.1 157.07H127.8M89.1 159.72H127.8M89.1 162.38H127.8M89.1 165.03H127.8M89.1 167.69H127.8M89.1 170.34H127.8M89.1 173H127.8M89.1 175.65H127.8M89.1 178.3H127.8M89.1 180.96H127.8M89.1 183.61H127.8M89.1 186.27H127.8M89.1 188.92H127.8M89.1 191.58H127.8M89.1 194.23H127.8M89.1 196.89H127.8M89.1 199.54H127.8M89.1 202.2H127.8M89.1 204.85H127.8M89.1 207.51H127.8M89.1 210.16H127.8M89.1 212.81H127.8M89.1 215.47H127.8M89.1 218.12H127.8M89.1 220.78H127.8M89.1 223.43H127.8M89.1 226.09H127.8M89.1 228.74H127.8M89.1 231.4H127.8M89.1 234.05H127.8M89.1 236.71H127.8M89.1 239.36H127.8M89.1 242.02H127.8M89.1 244.67H127.8M89.1 247.32H127.8M89.1 249.98H127.8M89.1 252.63H127.8M89.1 255.29H127.8M89.1 257.94H127.8M89.1 260.6H127.8M89.1 263.25H127.8M89.1 265.91H127.8M89.1 268.56H127.8M89.1 271.22H127.8M89.1 273.87H127.8M89.1 276.53H127.8M89.1 279.18H127.8M89.1 281.84H127.8M89.1 284.49H127.8M89.1 287.14H127.8M89.1 289.8H127.8M89.1 292.45H127.8M89.1 295.11H127.8M89.1 297.76H127.8M89.1 300.42H127.8M89.1 303.07H127.8M89.1 305.73H127.8M89.1 308.38H127.8M89.1 311.04H127.8M89.1 313.69H127.8M89.1 316.35H127.8M94.63 32.3V319M100.16 32.3V319M105.69 32.3V319M111.21 32.3V319M116.74 32.3V319M122.27 32.3V319"/>
<path d="M39 36.28H39V38.94H39M39 84.07H38.99V86.72H39M39 81.41H38.97V85.39H38.99M39 44.25H38.95V46.9H39M39 78.76H38.92V83.4H38.97M39 105.3H38.88V107.96H39M39 73.45H38.84V76.1H39M39 203.52H38.79V206.18H39M39 137.16H38.73V139.81H39M39 200.87H38.67V204.85H38.79M39 208.83H38.6V202.86H38.67M39 240.69H38.52V243.34H39M39 89.37H38.44V81.08H38.92M38.84 74.77H38.35V85.23H38.44M39 99.99H38.25V102.65H39M39 259.27H38.15V261.93H39M39 248.65H38.04V251.31H39M39 216.8H37.92V219.45H39M39 92.03H37.8V80H38.35M39 214.14H37.67V218.12H37.92M39 227.42H37.53V230.07H39M39 187.6H37.39V190.25H39M39 275.2H37.23V277.85H39M39 291.13H37.08V293.78H39M39 280.51H36.91V276.53H37.23M39 131.85H36.74V134.5H39M39 211.49H36.57V205.85H38.6M39 155.74H36.38V158.39H39M39 110.61H36.19V106.63H38.88M39 296.44H36V292.45H37.08M39 299.09H35.79V301.74H39M39 49.56H35.58V52.21H39M39 315.02H35.37V317.67H39M39 113.27H35.14V115.92H39M39 129.19H34.91V133.18H36.74M39 222.11H34.68V216.13H37.67M39 256.62H34.43V260.6H38.15M39 161.05H34.18V163.7H39M39 246H33.93V249.98H38.04M39 232.72H33.66V228.74H37.53M39 60.17H33.39V62.83H39M39 235.38H33.11V230.73H33.66M38.73 138.49H32.83V131.18H34.91M39 224.76H32.54V219.12H34.68M39 192.91H32.24V195.56H39M39 118.58H31.94V114.59H35.14M38.52 242.02H31.63V247.99H33.93M39 171.67H31.31V174.32H39M39 94.68H30.99V97.34H39M39 269.89H30.66V272.54H39M36.91 278.52H30.32V271.22H30.66M39 68.14H29.98V70.79H39M39 267.23H29.63V274.87H30.32M36.19 108.62H29.27V116.58H31.94M39 309.71H28.91V312.36H39M37.8 86.01H28.54V69.46H29.98M35.37 316.35H28.16V311.04H28.91M39 176.98H27.78V173H31.31M36 294.44H27.39V300.42H35.79M39 121.23H26.99V112.6H29.27M30.99 96.01H26.58V77.74H28.54M39 123.88H26.17V116.92H26.99M39 179.63H25.76V182.29H39M39 126.54H25.33V134.84H32.83M39 54.86H24.9V50.88H35.58M39 283.16H24.47V285.82H39M39 166.36H24.02V169.01H39M39 65.48H23.57V61.5H33.39M37.39 188.92H23.11V194.23H32.24M36.57 208.67H22.65V221.94H32.54M39 253.96H22.18V258.61H34.43M27.78 174.99H21.7V180.96H25.76M39 57.52H21.22V63.49H23.57M39 307.05H20.73V313.69H28.16M39 184.94H20.23V177.97H21.7M38.25 101.32H19.73V120.4H26.17M24.02 167.69H19.22V181.46H20.23M39 142.47H18.7V145.12H39M39 238.03H18.18V233.06H33.11M39 304.4H17.65V297.43H27.39M29.63 271.05H17.11V284.49H24.47M22.65 215.3H16.57V235.55H18.18M39 264.58H16.01V256.28H22.18M38.95 45.57H15.46V52.87H24.9M39 41.59H14.89V49.22H15.46M31.63 245H14.32V260.43H16.01M16.57 225.42H13.75V252.72H14.32M34.18 162.38H13.16V174.57H19.22M39 37.61H12.57V45.41H14.89M26.58 86.88H11.97V60.51H21.22M23.11 191.58H11.37V168.47H13.16M20.73 310.37H10.76V300.92H17.65M36.38 157.07H10.14V180.03H11.37M25.33 130.69H9.52V110.86H19.73M18.7 143.79H8.89V120.77H9.52M17.11 277.77H8.25V239.07H13.75M39 147.78H7.61V150.43H39M39 198.21H6.96V258.42H8.25M11.97 73.69H6.3V132.28H8.89M39 288.47H5.63V305.64H10.76M12.57 41.51H4.96V102.99H6.3M39 153.09H4.29V149.1H7.61M10.14 168.55H3.6V228.32H6.96M4.29 151.09H2.91V198.43H3.6M5.63 297.06H2.21V174.76H2.91M39 33.63H1.51V72.25H4.96M2.21 235.91H0.8V52.94H1.51" fill="none" stroke="#9494c0" stroke-width="0.7"/>
<g font-weight="bold" style="filter:grayscale(1)" transform="matrix(0.1 0.001 0 0.0767 130.8 0)"><text y="461.24">cg52601815</text><text y="498.63">cg08301661</text><text y="536.03">cg18609139</text><text y="573.42">cg99603082</text><text y="610.82">cg62819482</text><text y="648.22">cg99351819</text><text y="685.61">cg93786579</text><text y="723.01">cg54323194</text><text y="760.4">cg75749118</text><text y="797.8">cg25276018</text><text y="835.19">cg55597971</text><text y="872.59">cg47104974</text><text y="909.98">cg50752917</text><text y="947.38">cg34236671</text><text y="984.78">cg76842684</text><text y="1022.17">cg56321223</text><text y="1059.57">cg07924402</text><text y="1096.96">cg85995289</text><text y="1134.36">cg78666617</text><text y="1171.75">cg60313721</text><text y="1209.15">cg90109281</text><text y="1246.55">cg90139624</text><text y="1283.94">cg95711777</text><text y="1321.34">cg41215472</text><text y="1358.73">cg03852808</text><text y="1396.13">cg14852538</text><text y="1433.52">cg85393363</text><text y="1470.92">cg87500474</text><text y="1508.32">cg95755131</text><text y="1545.71">cg73537990</text><text y="1583.11">cg51163726</text><text y="1620.5">cg51676122</text><text y="1657.9">cg02972997</text><text y="1695.29">cg28820018</text><text y="1732.69">cg63304348</text><text y="1770.08">cg95486205</text><text y="1807.48">cg98682828</text><text y="1844.88">cg07290222</text><text y="1882.27">cg91805888</text><text y="1919.67">cg18033401</text><text y="1957.06">cg78017598</text><text y="1994.46">cg83478878</text><text y="2031.85">cg84837261</text><text y="2069.25">cg75136134</text><text y="2106.65">cg25242731</text><text y="2144.04">cg72326865</text><text y="2181.44">cg35515058</text><text y="2218.83">cg70658948</text><text y="2256.23">cg13114402</text><text y="2293.62">cg26462889</text><text y="2331.02">cg51402614</text><text y="2368.42">cg14193141</text><text y="2405.81">cg05864920</text><text y="2443.21">cg31240234</text><text y="2480.6">cg48347824</text><text y="2518">cg04000883</text><text y="2555.39">cg73716786</text><text y="2592.79">cg43353265</text><text y="2630.18">cg20146201</text><text y="2667.58">cg84934072</text><text y="2704.98">cg47045585</text><text y="2742.37">cg04352056</text><text y="2779.77">cg74833801</text><text y="2817.16">cg12690604</text><text y="2854.56">cg31982965</text><text y="2891.95">cg24920868</text><text y="2929.35">cg88909310</text><text y="2966.75">cg25167800</text><text y="3004.14">cg83740718</text><text y="3041.54">cg18174143</text><text y="3078.93">cg37761740</text><text y="3116.33">cg31925449</text><text y="3153.72">cg20707413</text><text y="3191.12">cg48477718</text><text y="3228.52">cg41704718</text><text y="3265.91">cg46331912</text><text y="3303.31">cg45298415</text><text y="3340.7">cg77602077</text><text y="3378.1">cg42656515</text><text y="3415.49">cg55613044</text><text y="3452.89">cg16691564</text><text y="3490.28">cg41042346</text><text y="3527.68">cg53560688</text><text y="3565.08">cg10679247</text><text y="3602.47">cg82276544</text><text y="3639.87">cg46347861</text><text y="3677.26">cg21387837</text><text y="3714.66">cg76283312</text><text y="3752.05">cg81535493</text><text y="3789.45">cg66683645</text><text y="3826.85">cg74952883</text><text y="3864.24">cg43667640</text><text y="3901.64">cg06797016</text><text y="3939.03">cg77313228</text><text y="3976.43">cg71800239</text><text y="4013.82">cg42486111</text><text y="4051.22">cg89364390</text><text y="4088.62">cg84745378</text><text y="4126.01">cg83064003</text><text y="4163.41">cg61436537</text></g>
<g font-weight="bold" style="filter:grayscale(1)" transform="matrix(0.1 0.001 0 0.0767 152.9 0)"><text y="461.24">HOXD10</text><text y="498.63">BCL11</text><text y="536.03">ATP2B2</text><text y="573.42">IRX4</text><text y="610.82">EBF3</text><text y="648.22">ATP2B2</text><text y="685.61">GRM1</text><text y="723.01">PRKCB</text><text y="760.4">HIC1</text><text y="797.8">SLC6A20</text><text y="835.19">VSTM2L</text><text y="872.59">ESR1</text><text y="909.98">ATP2B2</text><text y="947.38">SFRP1</text><text y="984.78">HIC1</text><text y="1022.17">RASSF1</text><text y="1059.57">HIC1</text><text y="1096.96">B3GALT6</text><text y="1134.36">PPP1R14A</text><text y="1171.75">TBX5</text><text y="1209.15">SALL1</text><text y="1246.55">RUNX3</text><text y="1283.94">KLF11</text><text y="1321.34">LRRC4</text><text y="1358.73">DLX5</text><text y="1396.13">CDKN2A</text><text y="1433.52">NKX2-5</text><text y="1470.92">LHX2</text><text y="1508.32">RASSF1</text><text y="1545.71">KLF11</text><text y="1583.11">PPP1R14A</text><text y="1620.5">FOXC1</text><text y="1657.9">RUNX3</text><text y="1695.29">EGFL8</text><text y="1732.69">BCL11</text><text y="1770.08">GRM1</text><text y="1807.48">ADRA1D</text><text y="1844.88">SPON1</text><text y="1882.27">KLF11</text><text y="1919.67">DMRT2</text><text y="1957.06">TBX15</text><text y="1994.46">WT1</text><text y="2031.85">DAB2IP</text><text y="2069.25">CHL1</text><text y="2106.65">DAB2IP</text><text y="2144.04">HIC1</text><text y="2181.44">GRM1</text><text y="2218.83">ELMO3</text><text y="2256.23">ALX4</text><text y="2293.62">MAL</text><text y="2331.02">NEFM</text><text y="2368.42">GRM1</text><text y="2405.81">PRKCB</text><text y="2443.21">KCNK12</text><text y="2480.6">RUNX3</text><text y="2518">ADRA1D</text><text y="2555.39">DMRT2</text><text y="2592.79">B3GALT6</text><text y="2630.18">CASP8</text><text y="2667.58">HOXA9</text><text y="2704.98">WT1</text><text y="2742.37">CDKN1C</text><text y="2779.77">TLX3</text><text y="2817.16">DLX5</text><text y="2854.56">MAL</text><text y="2891.95">EGFL8</text><text y="2929.35">ACP5B</text><text y="2966.75">KCNK12</text><text y="3004.14">SERPINB5</text><text y="3041.54">SOX17</text><text y="3078.93">FAM150A</text><text y="3116.33">PCDHGA12</text><text y="3153.72">HAND2</text><text y="3191.12">NKX2-5</text><text y="3228.52">FGF5</text><text y="3265.91">PRKCB</text><text y="3303.31">RASSF1</text><text y="3340.7">LOX</text><text y="3378.1">SLC17A6</text><text y="3415.49">NPY</text><text y="3452.89">B3GALT6</text><text y="3490.28">ADRA1D</text><text y="3527.68">SOX17</text><text y="3565.08">B3GALT6</text><text y="3602.47">SIX6</text><text y="3639.87">SFRP1</text><text y="3677.26">PTGDR</text><text y="3714.66">TBX5</text><text y="3752.05">NEFM</text><text y="3789.45">ATP2B2</text><text y="3826.85">VSTM2L</text><text y="3864.24">FOXC1</text><text y="3901.64">PRKCB</text><text y="3939.03">EBF3</text><text y="3976.43">CTNS</text><text y="4013.82">DLX5</text><text y="4051.22">NEFM</text><text y="4088.62">BCL11</text><text y="4126.01">MAL</text><text y="4163.41">CTNS</text></g>
<g font-size="2.9" fill="#333" font-weight="bold" style="filter:grayscale(1)"><text transform="translate(42.52,30.7) rotate(-90)" textLength="4.5" lengthAdjust="spacingAndGlyphs">Plt</text><text transform="translate(47.82,30.7) rotate(-90)" textLength="9.5" lengthAdjust="spacingAndGlyphs">Normal</text><text transform="translate(53.12,30.7) rotate(-90)" textLength="18.5" lengthAdjust="spacingAndGlyphs">Normal vs tumor</text><text transform="translate(59.46,30.7) rotate(-90)" textLength="4.0" lengthAdjust="spacingAndGlyphs">N1</text><text transform="translate(64.84,30.7) rotate(-90)" textLength="4.0" lengthAdjust="spacingAndGlyphs">N2</text><text transform="translate(70.23,30.7) rotate(-90)" textLength="4.0" lengthAdjust="spacingAndGlyphs">N3</text><text transform="translate(75.61,30.7) rotate(-90)" textLength="4.0" lengthAdjust="spacingAndGlyphs">N4</text><text transform="translate(81,30.7) rotate(-90)" textLength="4.0" lengthAdjust="spacingAndGlyphs">N5</text><text transform="translate(86.38,30.7) rotate(-90)" textLength="4.0" lengthAdjust="spacingAndGlyphs">N6</text><text transform="translate(92.73,30.7) rotate(-90)" textLength="6.3" lengthAdjust="spacingAndGlyphs">T01</text><text transform="translate(98.26,30.7) rotate(-90)" textLength="6.3" lengthAdjust="spacingAndGlyphs">T02</text><text transform="translate(103.79,30.7) rotate(-90)" textLength="6.3" lengthAdjust="spacingAndGlyphs">T03</text><text transform="translate(109.32,30.7) rotate(-90)" textLength="6.3" lengthAdjust="spacingAndGlyphs">T04</text><text transform="translate(114.85,30.7) rotate(-90)" textLength="6.3" lengthAdjust="spacingAndGlyphs">T05</text><text transform="translate(120.38,30.7) rotate(-90)" textLength="6.3" lengthAdjust="spacingAndGlyphs">T06</text><text transform="translate(125.91,30.7) rotate(-90)" textLength="6.3" lengthAdjust="spacingAndGlyphs">T07</text></g>
<defs><linearGradient id="cbA" x1="0" x2="1" y1="0" y2="0"><stop offset="0" stop-color="#74c45a"/><stop offset="0.15" stop-color="#3cb65a"/><stop offset="0.35" stop-color="#157a36"/><stop offset="0.52" stop-color="#070505"/><stop offset="0.72" stop-color="#600c12"/><stop offset="1" stop-color="#e82c38"/></linearGradient></defs>
<rect x="38.9" y="2" width="88.9" height="4.7" fill="url(#cbA)"/>
<g font-size="2.7" fill="#333" style="filter:grayscale(1)"><text x="38.9" y="9.5" textLength="4.2" lengthAdjust="spacingAndGlyphs">0.0</text><text x="81.13" y="9.5" textLength="4.0" lengthAdjust="spacingAndGlyphs">1.1</text><text x="123.6" y="9.5" textLength="4.2" lengthAdjust="spacingAndGlyphs">4.0</text></g>
<text x="0.9" y="10.0" font-size="11.4" font-weight="bold" fill="#000">A</text>
<path fill="#80dc80" d="M202 42.25h4.7v3.35h-4.7zM202 249.95h4.7v3.35h-4.7zM206.7 85.8h4.7v3.35h-4.7zM206.7 95.85h4.7v3.35h-4.7zM217.5 79.1h4.96v3.35h-4.96zM222.46 65.7h4.96v3.35h-4.96zM222.46 79.1h4.96v3.35h-4.96zM222.46 92.5h4.96v3.35h-4.96zM222.46 119.3h4.96v3.35h-4.96zM227.41 38.9h4.96v3.35h-4.96zM227.41 48.95h4.96v3.35h-4.96zM227.41 55.65h4.96v3.35h-4.96zM227.41 69.05h4.96v3.35h-4.96zM227.41 109.25h4.96v3.35h-4.96zM232.37 38.9h4.96v3.35h-4.96zM232.37 82.45h4.96v3.35h-4.96zM232.37 92.5h4.96v3.35h-4.96zM232.37 213.1h4.96v6.7h-4.96zM237.33 48.95h4.96v3.35h-4.96zM237.33 72.4h4.96v6.7h-4.96zM237.33 92.5h4.96v3.35h-4.96zM242.29 38.9h4.96v3.35h-4.96zM242.29 52.3h4.96v3.35h-4.96zM242.29 72.4h4.96v6.7h-4.96zM253 102.55h5v3.35h-5zM258 42.25h5v3.35h-5zM258 105.9h5v3.35h-5zM258 199.7h5v3.35h-5zM263 229.85h5v3.35h-5zM263 236.55h5v3.35h-5zM273 92.5h5v3.35h-5zM273 122.65h5v3.35h-5zM273 149.45h5v3.35h-5zM283 82.45h5v3.35h-5zM283 92.5h5v3.35h-5zM283 115.95h5v3.35h-5zM283 156.15h5v3.35h-5zM283 223.15h5v3.35h-5zM288 109.25h5v3.35h-5zM293 92.5h5v3.35h-5zM293 115.95h5v3.35h-5zM298 166.2h5v3.35h-5z"/>
<path fill="#36b85a" d="M202 38.9h4.7v3.35h-4.7zM202 45.6h4.7v16.75h-4.7zM202 69.05h4.7v97.15h-4.7zM202 169.55h4.7v73.7h-4.7zM202 246.6h4.7v3.35h-4.7zM206.7 102.55h4.7v3.35h-4.7zM206.7 182.95h4.7v6.7h-4.7zM206.7 249.95h4.7v3.35h-4.7zM217.5 38.9h4.96v33.5h-4.96zM222.46 42.25h4.96v6.7h-4.96zM222.46 52.3h4.96v6.7h-4.96zM222.46 62.35h4.96v3.35h-4.96zM222.46 69.05h4.96v10.05h-4.96zM222.46 82.45h4.96v6.7h-4.96zM227.41 42.25h4.96v3.35h-4.96zM227.41 52.3h4.96v3.35h-4.96zM227.41 62.35h4.96v6.7h-4.96zM227.41 72.4h4.96v10.05h-4.96zM227.41 85.8h4.96v6.7h-4.96zM232.37 42.25h4.96v3.35h-4.96zM232.37 59h4.96v3.35h-4.96zM232.37 69.05h4.96v3.35h-4.96zM232.37 89.15h4.96v3.35h-4.96zM237.33 52.3h4.96v3.35h-4.96zM237.33 69.05h4.96v3.35h-4.96zM237.33 79.1h4.96v6.7h-4.96zM237.33 89.15h4.96v3.35h-4.96zM242.29 42.25h4.96v10.05h-4.96zM242.29 55.65h4.96v10.05h-4.96zM242.29 82.45h4.96v6.7h-4.96zM242.29 223.15h4.96v3.35h-4.96zM247.24 38.9h4.96v3.35h-4.96zM247.24 79.1h4.96v3.35h-4.96zM247.24 85.8h4.96v3.35h-4.96zM247.24 102.55h4.96v3.35h-4.96zM247.24 196.35h4.96v3.35h-4.96zM253 45.6h5v3.35h-5zM253 89.15h5v3.35h-5zM253 95.85h5v3.35h-5zM253 109.25h5v3.35h-5zM253 206.4h5v3.35h-5zM258 92.5h5v3.35h-5zM258 99.2h5v3.35h-5zM258 182.95h5v3.35h-5zM258 249.95h5v3.35h-5zM263 95.85h5v6.7h-5zM263 139.4h5v3.35h-5zM263 169.55h5v3.35h-5zM263 179.6h5v3.35h-5zM263 189.65h5v3.35h-5zM263 233.2h5v3.35h-5zM263 239.9h5v3.35h-5zM263 246.6h5v3.35h-5zM268 115.95h5v3.35h-5zM268 122.65h5v3.35h-5zM268 129.35h5v10.05h-5zM268 152.8h5v10.05h-5zM268 169.55h5v13.4h-5zM268 186.3h5v3.35h-5zM268 193h5v3.35h-5zM268 203.05h5v3.35h-5zM268 229.85h5v3.35h-5zM268 243.25h5v3.35h-5zM273 112.6h5v3.35h-5zM273 126h5v23.45h-5zM273 152.8h5v16.75h-5zM273 176.25h5v3.35h-5zM273 186.3h5v3.35h-5zM273 213.1h5v6.7h-5zM273 239.9h5v3.35h-5zM278 92.5h5v3.35h-5zM278 99.2h5v30.15h-5zM278 132.7h5v10.05h-5zM278 149.45h5v16.75h-5zM278 169.55h5v13.4h-5zM278 186.3h5v3.35h-5zM278 193h5v16.75h-5zM278 213.1h5v6.7h-5zM278 223.15h5v3.35h-5zM278 233.2h5v6.7h-5zM278 243.25h5v10.05h-5zM283 102.55h5v13.4h-5zM283 119.3h5v3.35h-5zM283 129.35h5v6.7h-5zM283 139.4h5v16.75h-5zM283 159.5h5v6.7h-5zM283 172.9h5v13.4h-5zM283 189.65h5v6.7h-5zM283 219.8h5v3.35h-5zM283 226.5h5v3.35h-5zM283 236.55h5v3.35h-5zM283 243.25h5v3.35h-5zM288 99.2h5v10.05h-5zM288 112.6h5v10.05h-5zM288 126h5v23.45h-5zM288 152.8h5v13.4h-5zM288 176.25h5v6.7h-5zM288 186.3h5v3.35h-5zM288 196.35h5v16.75h-5zM288 219.8h5v6.7h-5zM288 229.85h5v10.05h-5zM288 246.6h5v6.7h-5zM293 65.7h5v3.35h-5zM293 95.85h5v3.35h-5zM293 102.55h5v13.4h-5zM293 119.3h5v6.7h-5zM293 129.35h5v13.4h-5zM293 149.45h5v3.35h-5zM293 156.15h5v20.1h-5zM293 182.95h5v3.35h-5zM293 189.65h5v6.7h-5zM293 213.1h5v6.7h-5zM293 226.5h5v3.35h-5zM293 249.95h5v3.35h-5zM298 95.85h5v3.35h-5zM298 102.55h5v3.35h-5zM298 109.25h5v10.05h-5zM298 126h5v6.7h-5zM298 136.05h5v23.45h-5zM298 162.85h5v3.35h-5zM298 169.55h5v20.1h-5zM298 193h5v6.7h-5zM298 206.4h5v6.7h-5zM298 219.8h5v3.35h-5zM298 229.85h5v3.35h-5zM298 236.55h5v6.7h-5zM298 249.95h5v3.35h-5z"/>
<path fill="#259a4a" d="M202 62.35h4.7v3.35h-4.7zM217.5 72.4h4.96v6.7h-4.96z"/>
<path fill="#1a6c36" d="M202 65.7h4.7v3.35h-4.7zM202 166.2h4.7v3.35h-4.7zM202 243.25h4.7v3.35h-4.7zM206.7 62.35h4.7v3.35h-4.7zM206.7 169.55h4.7v3.35h-4.7zM206.7 179.6h4.7v3.35h-4.7zM206.7 236.55h4.7v3.35h-4.7zM211.4 102.55h4.7v3.35h-4.7zM217.5 89.15h4.96v3.35h-4.96zM217.5 196.35h4.96v3.35h-4.96zM222.46 38.9h4.96v3.35h-4.96zM222.46 59h4.96v3.35h-4.96zM222.46 169.55h4.96v3.35h-4.96zM227.41 59h4.96v3.35h-4.96zM227.41 126h4.96v3.35h-4.96zM232.37 55.65h4.96v3.35h-4.96zM232.37 72.4h4.96v6.7h-4.96zM232.37 142.75h4.96v6.7h-4.96zM237.33 62.35h4.96v3.35h-4.96zM237.33 162.85h4.96v3.35h-4.96zM247.24 82.45h4.96v3.35h-4.96zM247.24 99.2h4.96v3.35h-4.96zM253 162.85h5v3.35h-5zM253 199.7h5v3.35h-5zM253 223.15h5v3.35h-5zM253 229.85h5v3.35h-5zM253 243.25h5v3.35h-5zM258 69.05h5v3.35h-5zM258 95.85h5v3.35h-5zM258 169.55h5v3.35h-5zM258 203.05h5v3.35h-5zM258 213.1h5v10.05h-5zM258 236.55h5v3.35h-5zM263 102.55h5v3.35h-5zM263 136.05h5v3.35h-5zM263 182.95h5v6.7h-5zM263 223.15h5v3.35h-5zM263 243.25h5v3.35h-5zM268 62.35h5v10.05h-5zM268 109.25h5v3.35h-5zM268 119.3h5v3.35h-5zM268 126h5v3.35h-5zM268 139.4h5v13.4h-5zM268 162.85h5v6.7h-5zM268 196.35h5v3.35h-5zM268 206.4h5v3.35h-5zM268 219.8h5v3.35h-5zM268 226.5h5v3.35h-5zM268 246.6h5v3.35h-5zM273 45.6h5v3.35h-5zM273 59h5v3.35h-5zM273 95.85h5v3.35h-5zM273 109.25h5v3.35h-5zM273 119.3h5v3.35h-5zM273 169.55h5v6.7h-5zM273 189.65h5v3.35h-5zM273 219.8h5v3.35h-5zM273 226.5h5v6.7h-5zM273 236.55h5v3.35h-5zM273 243.25h5v3.35h-5zM278 129.35h5v3.35h-5zM278 182.95h5v3.35h-5zM278 209.75h5v3.35h-5zM278 219.8h5v3.35h-5zM278 226.5h5v3.35h-5zM278 239.9h5v3.35h-5zM283 69.05h5v10.05h-5zM283 122.65h5v3.35h-5zM283 136.05h5v3.35h-5zM283 206.4h5v3.35h-5zM283 213.1h5v6.7h-5zM283 233.2h5v3.35h-5zM283 239.9h5v3.35h-5zM283 246.6h5v3.35h-5zM288 149.45h5v3.35h-5zM288 169.55h5v3.35h-5zM288 182.95h5v3.35h-5zM288 189.65h5v6.7h-5zM288 226.5h5v3.35h-5zM288 243.25h5v3.35h-5zM293 99.2h5v3.35h-5zM293 142.75h5v6.7h-5zM293 152.8h5v3.35h-5zM293 179.6h5v3.35h-5zM293 186.3h5v3.35h-5zM293 219.8h5v3.35h-5zM293 233.2h5v6.7h-5zM298 72.4h5v6.7h-5zM298 92.5h5v3.35h-5zM298 122.65h5v3.35h-5zM298 159.5h5v3.35h-5zM298 189.65h5v3.35h-5zM298 203.05h5v3.35h-5zM298 223.15h5v3.35h-5zM298 233.2h5v3.35h-5zM298 243.25h5v3.35h-5z"/>
<path fill="#1a1210" d="M206.7 42.25h4.7v6.7h-4.7zM206.7 115.95h4.7v3.35h-4.7zM206.7 152.8h4.7v3.35h-4.7zM206.7 172.9h4.7v6.7h-4.7zM206.7 199.7h4.7v10.05h-4.7zM206.7 213.1h4.7v6.7h-4.7zM206.7 223.15h4.7v3.35h-4.7zM206.7 243.25h4.7v3.35h-4.7zM211.4 59h4.7v3.35h-4.7zM211.4 72.4h4.7v6.7h-4.7zM211.4 99.2h4.7v3.35h-4.7zM211.4 136.05h4.7v3.35h-4.7zM211.4 166.2h4.7v3.35h-4.7zM211.4 176.25h4.7v3.35h-4.7zM211.4 193h4.7v3.35h-4.7zM211.4 203.05h4.7v3.35h-4.7zM211.4 226.5h4.7v3.35h-4.7zM217.5 82.45h4.96v3.35h-4.96zM217.5 105.9h4.96v3.35h-4.96zM217.5 176.25h4.96v3.35h-4.96zM222.46 48.95h4.96v3.35h-4.96zM222.46 229.85h4.96v3.35h-4.96zM227.41 82.45h4.96v3.35h-4.96zM227.41 122.65h4.96v3.35h-4.96zM227.41 166.2h4.96v3.35h-4.96zM227.41 189.65h4.96v3.35h-4.96zM227.41 246.6h4.96v3.35h-4.96zM232.37 45.6h4.96v10.05h-4.96zM232.37 79.1h4.96v3.35h-4.96zM232.37 85.8h4.96v3.35h-4.96zM232.37 129.35h4.96v3.35h-4.96zM232.37 149.45h4.96v3.35h-4.96zM232.37 159.5h4.96v3.35h-4.96zM232.37 226.5h4.96v3.35h-4.96zM237.33 38.9h4.96v3.35h-4.96zM237.33 45.6h4.96v3.35h-4.96zM237.33 55.65h4.96v6.7h-4.96zM237.33 85.8h4.96v3.35h-4.96zM237.33 239.9h4.96v3.35h-4.96zM242.29 69.05h4.96v3.35h-4.96zM242.29 89.15h4.96v3.35h-4.96zM242.29 149.45h4.96v3.35h-4.96zM242.29 229.85h4.96v3.35h-4.96zM247.24 69.05h4.96v3.35h-4.96zM253 52.3h5v10.05h-5zM253 65.7h5v3.35h-5zM253 72.4h5v6.7h-5zM253 82.45h5v6.7h-5zM253 99.2h5v3.35h-5zM253 105.9h5v3.35h-5zM253 115.95h5v3.35h-5zM253 126h5v3.35h-5zM253 149.45h5v3.35h-5zM253 169.55h5v3.35h-5zM253 176.25h5v3.35h-5zM253 186.3h5v3.35h-5zM253 196.35h5v3.35h-5zM253 203.05h5v3.35h-5zM253 209.75h5v3.35h-5zM253 219.8h5v3.35h-5zM253 226.5h5v3.35h-5zM253 233.2h5v3.35h-5zM253 239.9h5v3.35h-5zM253 246.6h5v3.35h-5zM258 38.9h5v3.35h-5zM258 45.6h5v6.7h-5zM258 62.35h5v3.35h-5zM258 102.55h5v3.35h-5zM258 179.6h5v3.35h-5zM258 189.65h5v3.35h-5zM258 206.4h5v3.35h-5zM258 223.15h5v3.35h-5zM258 229.85h5v6.7h-5zM258 239.9h5v3.35h-5zM263 85.8h5v3.35h-5zM263 132.7h5v3.35h-5zM263 142.75h5v6.7h-5zM263 162.85h5v3.35h-5zM263 176.25h5v3.35h-5zM263 199.7h5v3.35h-5zM263 209.75h5v10.05h-5zM263 226.5h5v3.35h-5zM263 249.95h5v3.35h-5zM268 92.5h5v3.35h-5zM268 99.2h5v6.7h-5zM268 112.6h5v3.35h-5zM268 189.65h5v3.35h-5zM268 199.7h5v3.35h-5zM268 223.15h5v3.35h-5zM268 233.2h5v3.35h-5zM268 239.9h5v3.35h-5zM268 249.95h5v3.35h-5zM273 38.9h5v3.35h-5zM273 115.95h5v3.35h-5zM273 179.6h5v3.35h-5zM273 196.35h5v3.35h-5zM273 206.4h5v6.7h-5zM273 223.15h5v3.35h-5zM273 246.6h5v3.35h-5zM278 72.4h5v6.7h-5zM278 142.75h5v6.7h-5zM278 189.65h5v3.35h-5zM278 229.85h5v3.35h-5zM283 55.65h5v3.35h-5zM283 79.1h5v3.35h-5zM283 85.8h5v3.35h-5zM283 99.2h5v3.35h-5zM283 126h5v3.35h-5zM283 203.05h5v3.35h-5zM283 209.75h5v3.35h-5zM283 229.85h5v3.35h-5zM283 249.95h5v3.35h-5zM288 59h5v6.7h-5zM288 122.65h5v3.35h-5zM288 166.2h5v3.35h-5zM288 172.9h5v3.35h-5zM288 213.1h5v6.7h-5zM288 239.9h5v3.35h-5zM293 79.1h5v3.35h-5zM293 126h5v3.35h-5zM293 206.4h5v3.35h-5zM293 223.15h5v3.35h-5zM293 229.85h5v3.35h-5zM298 132.7h5v3.35h-5zM298 199.7h5v3.35h-5zM298 213.1h5v6.7h-5zM298 226.5h5v3.35h-5zM298 246.6h5v3.35h-5z"/>
<path fill="#4a0c0e" d="M206.7 48.95h4.7v13.4h-4.7zM206.7 65.7h4.7v20.1h-4.7zM206.7 89.15h4.7v6.7h-4.7zM206.7 99.2h4.7v3.35h-4.7zM206.7 105.9h4.7v10.05h-4.7zM206.7 119.3h4.7v33.5h-4.7zM206.7 156.15h4.7v13.4h-4.7zM206.7 189.65h4.7v6.7h-4.7zM206.7 209.75h4.7v3.35h-4.7zM206.7 219.8h4.7v3.35h-4.7zM206.7 226.5h4.7v10.05h-4.7zM206.7 239.9h4.7v3.35h-4.7zM206.7 246.6h4.7v3.35h-4.7zM211.4 42.25h4.7v16.75h-4.7zM211.4 62.35h4.7v10.05h-4.7zM211.4 79.1h4.7v10.05h-4.7zM211.4 92.5h4.7v6.7h-4.7zM211.4 105.9h4.7v30.15h-4.7zM211.4 139.4h4.7v26.8h-4.7zM211.4 169.55h4.7v6.7h-4.7zM211.4 179.6h4.7v13.4h-4.7zM211.4 199.7h4.7v3.35h-4.7zM211.4 206.4h4.7v20.1h-4.7zM211.4 229.85h4.7v23.45h-4.7zM253 48.95h5v3.35h-5zM253 62.35h5v3.35h-5zM253 69.05h5v3.35h-5zM253 79.1h5v3.35h-5zM258 52.3h5v10.05h-5zM258 82.45h5v3.35h-5zM258 89.15h5v3.35h-5zM263 48.95h5v3.35h-5zM263 55.65h5v3.35h-5zM263 69.05h5v3.35h-5zM263 89.15h5v3.35h-5zM268 45.6h5v3.35h-5zM268 52.3h5v3.35h-5zM268 59h5v3.35h-5zM268 79.1h5v3.35h-5zM268 85.8h5v3.35h-5zM273 42.25h5v3.35h-5zM273 48.95h5v10.05h-5zM278 55.65h5v6.7h-5zM278 85.8h5v6.7h-5zM283 52.3h5v3.35h-5zM283 62.35h5v3.35h-5zM288 48.95h5v3.35h-5zM288 55.65h5v3.35h-5zM288 65.7h5v3.35h-5zM293 55.65h5v3.35h-5zM293 82.45h5v6.7h-5zM298 52.3h5v3.35h-5zM298 59h5v6.7h-5zM298 82.45h5v3.35h-5zM298 89.15h5v3.35h-5z"/>
<path fill="#961822" d="M217.5 85.8h4.96v3.35h-4.96zM217.5 92.5h4.96v13.4h-4.96zM217.5 109.25h4.96v40.2h-4.96zM217.5 152.8h4.96v6.7h-4.96zM217.5 162.85h4.96v6.7h-4.96zM217.5 172.9h4.96v3.35h-4.96zM217.5 179.6h4.96v13.4h-4.96zM217.5 199.7h4.96v13.4h-4.96zM217.5 219.8h4.96v16.75h-4.96zM217.5 243.25h4.96v10.05h-4.96zM222.46 89.15h4.96v3.35h-4.96zM222.46 95.85h4.96v3.35h-4.96zM222.46 105.9h4.96v13.4h-4.96zM222.46 122.65h4.96v10.05h-4.96zM222.46 136.05h4.96v6.7h-4.96zM222.46 149.45h4.96v3.35h-4.96zM222.46 156.15h4.96v13.4h-4.96zM222.46 172.9h4.96v6.7h-4.96zM222.46 182.95h4.96v3.35h-4.96zM222.46 189.65h4.96v10.05h-4.96zM222.46 203.05h4.96v26.8h-4.96zM222.46 233.2h4.96v6.7h-4.96zM222.46 243.25h4.96v3.35h-4.96zM222.46 249.95h4.96v3.35h-4.96zM227.41 45.6h4.96v3.35h-4.96zM227.41 92.5h4.96v3.35h-4.96zM227.41 99.2h4.96v10.05h-4.96zM227.41 112.6h4.96v10.05h-4.96zM227.41 129.35h4.96v10.05h-4.96zM227.41 142.75h4.96v6.7h-4.96zM227.41 152.8h4.96v3.35h-4.96zM227.41 159.5h4.96v6.7h-4.96zM227.41 169.55h4.96v3.35h-4.96zM227.41 176.25h4.96v3.35h-4.96zM227.41 182.95h4.96v3.35h-4.96zM227.41 193h4.96v13.4h-4.96zM227.41 209.75h4.96v30.15h-4.96zM227.41 243.25h4.96v3.35h-4.96zM227.41 249.95h4.96v3.35h-4.96zM232.37 65.7h4.96v3.35h-4.96zM232.37 95.85h4.96v3.35h-4.96zM232.37 102.55h4.96v6.7h-4.96zM232.37 112.6h4.96v10.05h-4.96zM232.37 126h4.96v3.35h-4.96zM232.37 132.7h4.96v3.35h-4.96zM232.37 139.4h4.96v3.35h-4.96zM232.37 152.8h4.96v6.7h-4.96zM232.37 162.85h4.96v6.7h-4.96zM232.37 172.9h4.96v3.35h-4.96zM232.37 179.6h4.96v3.35h-4.96zM232.37 186.3h4.96v6.7h-4.96zM232.37 199.7h4.96v13.4h-4.96zM232.37 219.8h4.96v6.7h-4.96zM232.37 229.85h4.96v13.4h-4.96zM232.37 246.6h4.96v3.35h-4.96zM237.33 42.25h4.96v3.35h-4.96zM237.33 65.7h4.96v3.35h-4.96zM237.33 95.85h4.96v6.7h-4.96zM237.33 105.9h4.96v10.05h-4.96zM237.33 119.3h4.96v10.05h-4.96zM237.33 132.7h4.96v20.1h-4.96zM237.33 156.15h4.96v3.35h-4.96zM237.33 166.2h4.96v6.7h-4.96zM237.33 176.25h4.96v6.7h-4.96zM237.33 186.3h4.96v3.35h-4.96zM237.33 193h4.96v13.4h-4.96zM237.33 209.75h4.96v20.1h-4.96zM237.33 233.2h4.96v6.7h-4.96zM237.33 243.25h4.96v10.05h-4.96zM242.29 65.7h4.96v3.35h-4.96zM242.29 79.1h4.96v3.35h-4.96zM242.29 92.5h4.96v3.35h-4.96zM242.29 99.2h4.96v3.35h-4.96zM242.29 105.9h4.96v6.7h-4.96zM242.29 115.95h4.96v6.7h-4.96zM242.29 126h4.96v16.75h-4.96zM242.29 152.8h4.96v3.35h-4.96zM242.29 159.5h4.96v26.8h-4.96zM242.29 189.65h4.96v33.5h-4.96zM242.29 226.5h4.96v3.35h-4.96zM242.29 233.2h4.96v3.35h-4.96zM242.29 239.9h4.96v3.35h-4.96zM242.29 246.6h4.96v6.7h-4.96zM247.24 45.6h4.96v10.05h-4.96zM247.24 62.35h4.96v6.7h-4.96zM247.24 72.4h4.96v6.7h-4.96zM247.24 89.15h4.96v10.05h-4.96zM247.24 105.9h4.96v13.4h-4.96zM247.24 122.65h4.96v13.4h-4.96zM247.24 139.4h4.96v36.85h-4.96zM247.24 179.6h4.96v10.05h-4.96zM247.24 193h4.96v3.35h-4.96zM247.24 199.7h4.96v50.25h-4.96zM253 42.25h5v3.35h-5zM253 92.5h5v3.35h-5zM253 112.6h5v3.35h-5zM253 119.3h5v6.7h-5zM253 129.35h5v6.7h-5zM253 139.4h5v10.05h-5zM253 152.8h5v10.05h-5zM253 166.2h5v3.35h-5zM253 172.9h5v3.35h-5zM253 179.6h5v6.7h-5zM253 189.65h5v6.7h-5zM253 213.1h5v6.7h-5zM253 236.55h5v3.35h-5zM253 249.95h5v3.35h-5zM258 65.7h5v3.35h-5zM258 72.4h5v6.7h-5zM258 85.8h5v3.35h-5zM258 109.25h5v3.35h-5zM258 132.7h5v10.05h-5zM258 162.85h5v6.7h-5zM258 172.9h5v3.35h-5zM258 186.3h5v3.35h-5zM258 226.5h5v3.35h-5zM258 246.6h5v3.35h-5zM263 42.25h5v6.7h-5zM263 52.3h5v3.35h-5zM263 59h5v10.05h-5zM263 72.4h5v13.4h-5zM263 92.5h5v3.35h-5zM263 105.9h5v3.35h-5zM263 112.6h5v3.35h-5zM263 122.65h5v10.05h-5zM263 149.45h5v13.4h-5zM263 166.2h5v3.35h-5zM263 172.9h5v3.35h-5zM263 193h5v6.7h-5zM263 203.05h5v6.7h-5zM263 219.8h5v3.35h-5zM268 38.9h5v6.7h-5zM268 48.95h5v3.35h-5zM268 55.65h5v3.35h-5zM268 72.4h5v6.7h-5zM268 82.45h5v3.35h-5zM268 89.15h5v3.35h-5zM268 95.85h5v3.35h-5zM268 105.9h5v3.35h-5zM268 182.95h5v3.35h-5zM268 209.75h5v10.05h-5zM268 236.55h5v3.35h-5zM273 62.35h5v30.15h-5zM273 105.9h5v3.35h-5zM273 182.95h5v3.35h-5zM273 193h5v3.35h-5zM273 199.7h5v6.7h-5zM273 233.2h5v3.35h-5zM273 249.95h5v3.35h-5zM278 42.25h5v3.35h-5zM278 48.95h5v6.7h-5zM278 62.35h5v10.05h-5zM278 79.1h5v6.7h-5zM283 42.25h5v3.35h-5zM283 48.95h5v3.35h-5zM283 65.7h5v3.35h-5zM283 89.15h5v3.35h-5zM283 95.85h5v3.35h-5zM283 166.2h5v3.35h-5zM283 186.3h5v3.35h-5zM283 196.35h5v6.7h-5zM288 42.25h5v3.35h-5zM288 52.3h5v3.35h-5zM288 69.05h5v26.8h-5zM293 42.25h5v10.05h-5zM293 62.35h5v3.35h-5zM293 69.05h5v10.05h-5zM293 89.15h5v3.35h-5zM293 176.25h5v3.35h-5zM293 196.35h5v3.35h-5zM293 203.05h5v3.35h-5zM293 209.75h5v3.35h-5zM298 38.9h5v6.7h-5zM298 48.95h5v3.35h-5zM298 55.65h5v3.35h-5zM298 65.7h5v6.7h-5zM298 79.1h5v3.35h-5zM298 85.8h5v3.35h-5zM298 99.2h5v3.35h-5zM298 105.9h5v3.35h-5zM298 119.3h5v3.35h-5z"/>
<path fill="#cc2030" d="M211.4 38.9h4.7v3.35h-4.7zM211.4 89.15h4.7v3.35h-4.7zM217.5 149.45h4.96v3.35h-4.96zM217.5 169.55h4.96v3.35h-4.96zM217.5 213.1h4.96v6.7h-4.96zM217.5 236.55h4.96v3.35h-4.96zM222.46 99.2h4.96v3.35h-4.96zM222.46 132.7h4.96v3.35h-4.96zM222.46 142.75h4.96v6.7h-4.96zM222.46 152.8h4.96v3.35h-4.96zM222.46 186.3h4.96v3.35h-4.96zM222.46 199.7h4.96v3.35h-4.96zM222.46 239.9h4.96v3.35h-4.96zM222.46 246.6h4.96v3.35h-4.96zM227.41 95.85h4.96v3.35h-4.96zM227.41 139.4h4.96v3.35h-4.96zM227.41 172.9h4.96v3.35h-4.96zM227.41 179.6h4.96v3.35h-4.96zM227.41 206.4h4.96v3.35h-4.96zM232.37 99.2h4.96v3.35h-4.96zM232.37 109.25h4.96v3.35h-4.96zM232.37 122.65h4.96v3.35h-4.96zM232.37 136.05h4.96v3.35h-4.96zM232.37 169.55h4.96v3.35h-4.96zM232.37 193h4.96v6.7h-4.96zM232.37 243.25h4.96v3.35h-4.96zM232.37 249.95h4.96v3.35h-4.96zM237.33 115.95h4.96v3.35h-4.96zM237.33 129.35h4.96v3.35h-4.96zM237.33 159.5h4.96v3.35h-4.96zM237.33 182.95h4.96v3.35h-4.96zM237.33 206.4h4.96v3.35h-4.96zM242.29 95.85h4.96v3.35h-4.96zM242.29 102.55h4.96v3.35h-4.96zM242.29 112.6h4.96v3.35h-4.96zM242.29 122.65h4.96v3.35h-4.96zM242.29 142.75h4.96v6.7h-4.96zM247.24 42.25h4.96v3.35h-4.96zM247.24 59h4.96v3.35h-4.96zM247.24 119.3h4.96v3.35h-4.96zM247.24 136.05h4.96v3.35h-4.96zM247.24 176.25h4.96v3.35h-4.96zM247.24 189.65h4.96v3.35h-4.96zM247.24 249.95h4.96v3.35h-4.96zM253 38.9h5v3.35h-5zM253 136.05h5v3.35h-5zM258 112.6h5v3.35h-5zM258 119.3h5v6.7h-5zM258 129.35h5v3.35h-5zM258 176.25h5v3.35h-5zM258 209.75h5v3.35h-5zM263 38.9h5v3.35h-5zM263 115.95h5v6.7h-5zM273 102.55h5v3.35h-5zM278 38.9h5v3.35h-5zM278 45.6h5v3.35h-5zM278 95.85h5v3.35h-5zM278 166.2h5v3.35h-5zM283 45.6h5v3.35h-5zM283 169.55h5v3.35h-5zM288 38.9h5v3.35h-5zM288 45.6h5v3.35h-5zM293 38.9h5v3.35h-5zM293 52.3h5v3.35h-5zM293 199.7h5v3.35h-5zM293 239.9h5v3.35h-5zM298 45.6h5v3.35h-5z"/>
<path fill="#e8283a" d="M206.7 38.9h4.7v3.35h-4.7zM206.7 196.35h4.7v3.35h-4.7zM211.4 196.35h4.7v3.35h-4.7zM217.5 159.5h4.96v3.35h-4.96zM217.5 193h4.96v3.35h-4.96zM217.5 239.9h4.96v3.35h-4.96zM222.46 102.55h4.96v3.35h-4.96zM222.46 179.6h4.96v3.35h-4.96zM227.41 149.45h4.96v3.35h-4.96zM227.41 156.15h4.96v3.35h-4.96zM227.41 186.3h4.96v3.35h-4.96zM227.41 239.9h4.96v3.35h-4.96zM232.37 62.35h4.96v3.35h-4.96zM232.37 176.25h4.96v3.35h-4.96zM232.37 182.95h4.96v3.35h-4.96zM237.33 102.55h4.96v3.35h-4.96zM237.33 152.8h4.96v3.35h-4.96zM237.33 172.9h4.96v3.35h-4.96zM237.33 189.65h4.96v3.35h-4.96zM237.33 229.85h4.96v3.35h-4.96zM242.29 156.15h4.96v3.35h-4.96zM242.29 186.3h4.96v3.35h-4.96zM242.29 236.55h4.96v3.35h-4.96zM242.29 243.25h4.96v3.35h-4.96zM247.24 55.65h4.96v3.35h-4.96zM258 79.1h5v3.35h-5zM258 115.95h5v3.35h-5zM258 126h5v3.35h-5zM258 142.75h5v20.1h-5zM258 193h5v6.7h-5zM258 243.25h5v3.35h-5zM263 109.25h5v3.35h-5zM273 99.2h5v3.35h-5zM283 38.9h5v3.35h-5zM283 59h5v3.35h-5zM288 95.85h5v3.35h-5zM293 59h5v3.35h-5zM293 243.25h5v6.7h-5z"/>
<path fill="none" stroke="#140a08" stroke-opacity="0.55" stroke-width="0.55" d="M202 42.25H216.1M202 45.6H216.1M202 48.95H216.1M202 52.3H216.1M202 55.65H216.1M202 59H216.1M202 62.35H216.1M202 65.7H216.1M202 69.05H216.1M202 72.4H216.1M202 75.75H216.1M202 79.1H216.1M202 82.45H216.1M202 85.8H216.1M202 89.15H216.1M202 92.5H216.1M202 95.85H216.1M202 99.2H216.1M202 102.55H216.1M202 105.9H216.1M202 109.25H216.1M202 112.6H216.1M202 115.95H216.1M202 119.3H216.1M202 122.65H216.1M202 126H216.1M202 129.35H216.1M202 132.7H216.1M202 136.05H216.1M202 139.4H216.1M202 142.75H216.1M202 146.1H216.1M202 149.45H216.1M202 152.8H216.1M202 156.15H216.1M202 159.5H216.1M202 162.85H216.1M202 166.2H216.1M202 169.55H216.1M202 172.9H216.1M202 176.25H216.1M202 179.6H216.1M202 182.95H216.1M202 186.3H216.1M202 189.65H216.1M202 193H216.1M202 196.35H216.1M202 199.7H216.1M202 203.05H216.1M202 206.4H216.1M202 209.75H216.1M202 213.1H216.1M202 216.45H216.1M202 219.8H216.1M202 223.15H216.1M202 226.5H216.1M202 229.85H216.1M202 233.2H216.1M202 236.55H216.1M202 239.9H216.1M202 243.25H216.1M202 246.6H216.1M202 249.95H216.1M206.7 38.9V253.3M211.4 38.9V253.3M217.5 42.25H252.2M217.5 45.6H252.2M217.5 48.95H252.2M217.5 52.3H252.2M217.5 55.65H252.2M217.5 59H252.2M217.5 62.35H252.2M217.5 65.7H252.2M217.5 69.05H252.2M217.5 72.4H252.2M217.5 75.75H252.2M217.5 79.1H252.2M217.5 82.45H252.2M217.5 85.8H252.2M217.5 89.15H252.2M217.5 92.5H252.2M217.5 95.85H252.2M217.5 99.2H252.2M217.5 102.55H252.2M217.5 105.9H252.2M217.5 109.25H252.2M217.5 112.6H252.2M217.5 115.95H252.2M217.5 119.3H252.2M217.5 122.65H252.2M217.5 126H252.2M217.5 129.35H252.2M217.5 132.7H252.2M217.5 136.05H252.2M217.5 139.4H252.2M217.5 142.75H252.2M217.5 146.1H252.2M217.5 149.45H252.2M217.5 152.8H252.2M217.5 156.15H252.2M217.5 159.5H252.2M217.5 162.85H252.2M217.5 166.2H252.2M217.5 169.55H252.2M217.5 172.9H252.2M217.5 176.25H252.2M217.5 179.6H252.2M217.5 182.95H252.2M217.5 186.3H252.2M217.5 189.65H252.2M217.5 193H252.2M217.5 196.35H252.2M217.5 199.7H252.2M217.5 203.05H252.2M217.5 206.4H252.2M217.5 209.75H252.2M217.5 213.1H252.2M217.5 216.45H252.2M217.5 219.8H252.2M217.5 223.15H252.2M217.5 226.5H252.2M217.5 229.85H252.2M217.5 233.2H252.2M217.5 236.55H252.2M217.5 239.9H252.2M217.5 243.25H252.2M217.5 246.6H252.2M217.5 249.95H252.2M222.46 38.9V253.3M227.41 38.9V253.3M232.37 38.9V253.3M237.33 38.9V253.3M242.29 38.9V253.3M247.24 38.9V253.3M253 42.25H303M253 45.6H303M253 48.95H303M253 52.3H303M253 55.65H303M253 59H303M253 62.35H303M253 65.7H303M253 69.05H303M253 72.4H303M253 75.75H303M253 79.1H303M253 82.45H303M253 85.8H303M253 89.15H303M253 92.5H303M253 95.85H303M253 99.2H303M253 102.55H303M253 105.9H303M253 109.25H303M253 112.6H303M253 115.95H303M253 119.3H303M253 122.65H303M253 126H303M253 129.35H303M253 132.7H303M253 136.05H303M253 139.4H303M253 142.75H303M253 146.1H303M253 149.45H303M253 152.8H303M253 156.15H303M253 159.5H303M253 162.85H303M253 166.2H303M253 169.55H303M253 172.9H303M253 176.25H303M253 179.6H303M253 182.95H303M253 186.3H303M253 189.65H303M253 193H303M253 196.35H303M253 199.7H303M253 203.05H303M253 206.4H303M253 209.75H303M253 213.1H303M253 216.45H303M253 219.8H303M253 223.15H303M253 226.5H303M253 229.85H303M253 233.2H303M253 236.55H303M253 239.9H303M253 243.25H303M253 246.6H303M253 249.95H303M258 38.9V253.3M263 38.9V253.3M268 38.9V253.3M273 38.9V253.3M278 38.9V253.3M283 38.9V253.3M288 38.9V253.3M293 38.9V253.3M298 38.9V253.3"/>
<path d="M202 214.78H201.99V218.12H202M202 74.08H201.98V77.42H202M202 144.43H201.95V147.78H202M202 137.72H201.92V141.07H202M202 157.82H201.87V161.18H202M202 154.47H201.81V159.5H201.87M202 50.62H201.74V53.98H202M202 131.03H201.66V134.38H202M201.92 139.4H201.57V132.7H201.66M202 57.33H201.47V52.3H201.74M202 151.12H201.36V156.99H201.81M202 201.38H201.24V204.73H202M202 114.28H201.11V117.62H202M202 208.08H200.96V203.05H201.24M202 244.93H200.81V248.28H202M201.95 146.1H200.65V154.06H201.36M202 124.32H200.47V127.68H202M202 60.67H200.29V54.81H201.47M202 234.88H200.09V238.23H202M201.57 136.05H199.88V150.08H200.65M202 211.43H199.67V205.56H200.96M202 164.53H199.44V143.06H199.88M200.47 126H199.2V153.79H199.44M202 231.53H198.95V236.55H200.09M202 177.93H198.69V181.28H202M202 174.58H198.42V179.6H198.69M202 221.48H198.14V224.83H202M202 184.62H197.85V177.09H198.42M202 241.58H197.55V246.6H200.81M202 70.72H197.24V75.75H201.98M202 110.93H196.92V115.95H201.11M202 120.97H196.58V139.9H199.2M198.95 234.04H196.24V244.09H197.55M202 228.18H195.88V223.15H198.14M196.92 113.44H195.52V130.44H196.58M202 40.57H195.14V43.92H202M196.24 239.06H194.76V225.66H195.88M202 64.03H194.36V67.38H202M201.99 216.45H193.95V232.36H194.76M202 80.78H193.53V73.24H197.24M202 191.33H193.11V194.68H202M202 47.27H192.67V57.74H200.29M202 84.12H192.22V87.47H202M193.53 77.01H191.76V85.8H192.22M195.14 42.25H191.29V52.51H192.67M194.36 65.7H190.8V47.38H191.29M202 171.23H190.31V180.86H197.85M202 100.88H189.81V104.22H202M202 167.88H189.3V121.94H195.52M191.76 81.4H188.77V56.54H190.8M202 187.98H188.24V193H193.11M190.31 176.04H187.69V144.91H189.3M199.67 208.49H187.14V224.41H193.95M188.24 190.49H186.57V160.47H187.69M202 107.57H185.99V175.48H186.57M202 198.03H185.41V216.45H187.14M185.99 141.53H184.81V207.24H185.41M202 251.62H184.2V174.38H184.81M189.81 102.55H183.58V213H184.2M202 90.83H182.95V68.97H188.77M202 97.53H182.31V157.78H183.58M202 94.17H181.66V79.9H182.95M182.31 127.65H181V87.04H181.66" fill="none" stroke="#9494c0" stroke-width="0.7"/>
<g font-weight="bold" style="filter:grayscale(1)" transform="matrix(0.09 0.001 0 0.1000 305.8 0)"><text y="417.37">cg56563048</text><text y="452.52">cg37343373</text><text y="487.67">cg41979237</text><text y="522.82">cg09260309</text><text y="557.96">cg60026751</text><text y="593.11">cg25328704</text><text y="628.26">cg55721014</text><text y="663.41">cg56183654</text><text y="698.55">cg10735873</text><text y="733.7">cg57063606</text><text y="768.85">cg71043195</text><text y="804">cg45904544</text><text y="839.14">cg91031776</text><text y="874.29">cg67272042</text><text y="909.44">cg35575918</text><text y="944.59">cg62361078</text><text y="979.73">cg52611491</text><text y="1014.88">cg16772326</text><text y="1050.03">cg93814449</text><text y="1085.18">cg54437323</text><text y="1120.32">cg24935164</text><text y="1155.47">cg88317010</text><text y="1190.62">cg37504310</text><text y="1225.77">cg99315827</text><text y="1260.91">cg40199530</text><text y="1296.06">cg52034093</text><text y="1331.21">cg56529413</text><text y="1366.36">cg78716168</text><text y="1401.5">cg81264644</text><text y="1436.65">cg04956605</text><text y="1471.8">cg66306261</text><text y="1506.95">cg69572200</text><text y="1542.1">cg26199582</text><text y="1577.24">cg54282116</text><text y="1612.39">cg34207509</text><text y="1647.54">cg61923969</text><text y="1682.69">cg72930682</text><text y="1717.83">cg51233080</text><text y="1752.98">cg16978464</text><text y="1788.13">cg36657872</text><text y="1823.28">cg09773797</text><text y="1858.42">cg76112565</text><text y="1893.57">cg78800215</text><text y="1928.72">cg10862019</text><text y="1963.87">cg32742315</text><text y="1999.01">cg42594724</text><text y="2034.16">cg73949835</text><text y="2069.31">cg03262456</text><text y="2104.46">cg41805788</text><text y="2139.6">cg14865465</text><text y="2174.75">cg25517329</text><text y="2209.9">cg48449500</text><text y="2245.05">cg24966850</text><text y="2280.19">cg73900009</text><text y="2315.34">cg41858369</text><text y="2350.49">cg92359722</text><text y="2385.64">cg32711246</text><text y="2420.78">cg00859979</text><text y="2455.93">cg73200080</text><text y="2491.08">cg23201098</text><text y="2526.23">cg26389869</text></g>
<g font-weight="bold" style="filter:grayscale(1)" transform="matrix(0.09 0.001 0 0.1000 326 0)"><text y="417.37">ELMO3</text><text y="452.52">TLX3</text><text y="487.67">HIC1</text><text y="522.82">TNXB</text><text y="557.96">CDKN1C</text><text y="593.11">CASP8</text><text y="628.26">CDKN1C</text><text y="663.41">POU4F1</text><text y="698.55">FOXL2</text><text y="733.7">CTNS</text><text y="768.85">SALL1</text><text y="804">SLC17A6</text><text y="839.14">SIX6</text><text y="874.29">TBX15</text><text y="909.44">NKX2-5</text><text y="944.59">CDKN2A</text><text y="979.73">SOX17</text><text y="1014.88">GRM1</text><text y="1050.03">ALX4</text><text y="1085.18">BCL11</text><text y="1120.32">WT1</text><text y="1155.47">SPON1</text><text y="1190.62">LHX2</text><text y="1225.77">TBX15</text><text y="1260.91">NPY</text><text y="1296.06">NEFM</text><text y="1331.21">CTNS</text><text y="1366.36">ZIC4</text><text y="1401.5">HIC1</text><text y="1436.65">NKX2-5</text><text y="1471.8">VSTM2L</text><text y="1506.95">TMEFF2</text><text y="1542.1">TNXB</text><text y="1577.24">HAND2</text><text y="1612.39">PPP1R14A</text><text y="1647.54">NKX2-5</text><text y="1682.69">ESR1</text><text y="1717.83">FOXL2</text><text y="1752.98">HOXD10</text><text y="1788.13">NEFM</text><text y="1823.28">GATA4</text><text y="1858.42">VSTM2L</text><text y="1893.57">ADRA1D</text><text y="1928.72">TWIST2</text><text y="1963.87">FAM150A</text><text y="1999.01">DMRT2</text><text y="2034.16">NPY</text><text y="2069.31">SFRP1</text><text y="2104.46">HOXD10</text><text y="2139.6">SLC6A20</text><text y="2174.75">B3GALT6</text><text y="2209.9">SEPT9</text><text y="2245.05">FOXC1</text><text y="2280.19">CDH13</text><text y="2315.34">DLX5</text><text y="2350.49">NEFM</text><text y="2385.64">TLX3</text><text y="2420.78">LRRC4</text><text y="2455.93">LOX</text><text y="2491.08">NKX2-5</text><text y="2526.23">GATA4</text></g>
<g font-size="2.7" fill="#333" font-weight="bold" style="filter:grayscale(1)"><text transform="translate(205.16,36.6) rotate(-90)" textLength="5.7" lengthAdjust="spacingAndGlyphs">Plt</text><text transform="translate(209.86,36.6) rotate(-90)" textLength="10.9" lengthAdjust="spacingAndGlyphs">Normal</text><text transform="translate(214.56,36.6) rotate(-90)" textLength="22.3" lengthAdjust="spacingAndGlyphs">Normal vs tumor</text><text transform="translate(220.79,36.6) rotate(-90)" textLength="6.8" lengthAdjust="spacingAndGlyphs">N-01</text><text transform="translate(225.75,36.6) rotate(-90)" textLength="6.8" lengthAdjust="spacingAndGlyphs">N-02</text><text transform="translate(230.7,36.6) rotate(-90)" textLength="6.8" lengthAdjust="spacingAndGlyphs">N-03</text><text transform="translate(235.66,36.6) rotate(-90)" textLength="6.8" lengthAdjust="spacingAndGlyphs">N-04</text><text transform="translate(240.62,36.6) rotate(-90)" textLength="6.8" lengthAdjust="spacingAndGlyphs">N-05</text><text transform="translate(245.57,36.6) rotate(-90)" textLength="6.8" lengthAdjust="spacingAndGlyphs">N-06</text><text transform="translate(250.53,36.6) rotate(-90)" textLength="6.8" lengthAdjust="spacingAndGlyphs">N-07</text><text transform="translate(256.31,36.6) rotate(-90)" textLength="10.2" lengthAdjust="spacingAndGlyphs">1-2-A-1</text><text transform="translate(261.31,36.6) rotate(-90)" textLength="10.2" lengthAdjust="spacingAndGlyphs">1-2-A-1</text><text transform="translate(266.31,36.6) rotate(-90)" textLength="10.2" lengthAdjust="spacingAndGlyphs">1-2-A-1</text><text transform="translate(271.31,36.6) rotate(-90)" textLength="10.2" lengthAdjust="spacingAndGlyphs">1-2-A-1</text><text transform="translate(276.31,36.6) rotate(-90)" textLength="10.2" lengthAdjust="spacingAndGlyphs">1-2-A-1</text><text transform="translate(281.31,36.6) rotate(-90)" textLength="10.2" lengthAdjust="spacingAndGlyphs">1-2-A-1</text><text transform="translate(286.31,36.6) rotate(-90)" textLength="10.2" lengthAdjust="spacingAndGlyphs">1-2-A-1</text><text transform="translate(291.31,36.6) rotate(-90)" textLength="10.2" lengthAdjust="spacingAndGlyphs">1-2-A-1</text><text transform="translate(296.31,36.6) rotate(-90)" textLength="10.2" lengthAdjust="spacingAndGlyphs">1-2-A-1</text><text transform="translate(301.31,36.6) rotate(-90)" textLength="12.4" lengthAdjust="spacingAndGlyphs">10-2-A-1</text></g>
<defs><linearGradient id="cbB" x1="0" x2="1" y1="0" y2="0"><stop offset="0" stop-color="#74c45a"/><stop offset="0.15" stop-color="#3cb65a"/><stop offset="0.35" stop-color="#157a36"/><stop offset="0.52" stop-color="#070505"/><stop offset="0.72" stop-color="#600c12"/><stop offset="1" stop-color="#e82c38"/></linearGradient></defs>
<rect x="201.9" y="2.5" width="100.9" height="4.9" fill="url(#cbB)"/>
<g font-size="2.7" fill="#333" style="filter:grayscale(1)"><text x="201.9" y="10.4" textLength="4.2" lengthAdjust="spacingAndGlyphs">0.0</text><text x="249.83" y="10.4" textLength="4.0" lengthAdjust="spacingAndGlyphs">1.1</text><text x="298.6" y="10.4" textLength="4.2" lengthAdjust="spacingAndGlyphs">4.0</text></g>
<text x="179.5" y="9.0" font-size="11.4" font-weight="bold" fill="#000">B</text>
<path fill="#80dc80" d="M379.4 49.23h5.2v3.44h-5.2zM379.4 93.99h5.2v6.89h-5.2zM379.4 152.53h5.2v3.44h-5.2zM379.4 173.19h5.2v3.44h-5.2zM379.4 183.52h5.2v3.44h-5.2zM379.4 207.63h5.2v3.44h-5.2zM401.3 45.79h4.9v3.44h-4.9zM401.3 59.56h4.9v3.44h-4.9zM406.2 49.23h4.9v3.44h-4.9zM406.2 80.22h4.9v3.44h-4.9zM432.66 97.44h5.26v3.44h-5.26zM432.66 152.53h5.26v3.44h-5.26zM432.66 183.52h5.26v3.44h-5.26zM432.66 207.63h5.26v6.89h-5.26zM437.92 104.32h5.26v3.44h-5.26zM437.92 211.07h5.26v3.44h-5.26zM448.44 152.53h5.26v3.44h-5.26zM453.7 166.31h5.26v10.33h-5.26zM469.48 180.08h5.26v3.44h-5.26zM474.74 93.99h5.26v6.89h-5.26zM474.74 169.75h5.26v3.44h-5.26z"/>
<path fill="#36b85a" d="M379.4 38.9h5.2v10.33h-5.2zM379.4 52.67h5.2v3.44h-5.2zM379.4 59.56h5.2v17.22h-5.2zM379.4 80.22h5.2v13.77h-5.2zM379.4 100.88h5.2v6.89h-5.2zM379.4 118.1h5.2v3.44h-5.2zM379.4 128.43h5.2v13.77h-5.2zM379.4 149.09h5.2v3.44h-5.2zM379.4 155.98h5.2v3.44h-5.2zM379.4 166.31h5.2v6.89h-5.2zM379.4 176.64h5.2v6.89h-5.2zM379.4 190.41h5.2v17.22h-5.2zM379.4 211.07h5.2v10.33h-5.2zM384.6 90.55h5.2v3.44h-5.2zM384.6 118.1h5.2v3.44h-5.2zM384.6 135.32h5.2v3.44h-5.2zM389.8 90.55h5.2v3.44h-5.2zM389.8 118.1h5.2v3.44h-5.2zM396.4 38.9h4.9v10.33h-4.9zM396.4 56.12h4.9v6.89h-4.9zM396.4 66.45h4.9v3.44h-4.9zM396.4 73.33h4.9v10.33h-4.9zM401.3 38.9h4.9v6.89h-4.9zM401.3 52.67h4.9v3.44h-4.9zM401.3 63h4.9v13.77h-4.9zM401.3 80.22h4.9v6.89h-4.9zM401.3 90.55h4.9v3.44h-4.9zM406.2 45.79h4.9v3.44h-4.9zM406.2 56.12h4.9v3.44h-4.9zM406.2 63h4.9v3.44h-4.9zM406.2 69.89h4.9v3.44h-4.9zM406.2 76.78h4.9v3.44h-4.9zM406.2 87.11h4.9v3.44h-4.9zM411.1 38.9h4.9v10.33h-4.9zM411.1 52.67h4.9v3.44h-4.9zM411.1 59.56h4.9v3.44h-4.9zM411.1 73.33h4.9v3.44h-4.9zM411.1 80.22h4.9v6.89h-4.9zM411.1 142.2h4.9v3.44h-4.9zM416 42.34h4.9v3.44h-4.9zM416 49.23h4.9v3.44h-4.9zM416 56.12h4.9v3.44h-4.9zM416 63h4.9v3.44h-4.9zM416 73.33h4.9v6.89h-4.9zM420.9 38.9h4.9v3.44h-4.9zM420.9 45.79h4.9v6.89h-4.9zM420.9 59.56h4.9v3.44h-4.9zM420.9 69.89h4.9v6.89h-4.9zM420.9 80.22h4.9v3.44h-4.9zM420.9 87.11h4.9v3.44h-4.9zM427.4 142.2h5.26v3.44h-5.26zM427.4 169.75h5.26v3.44h-5.26zM427.4 176.64h5.26v3.44h-5.26zM427.4 186.97h5.26v3.44h-5.26zM427.4 207.63h5.26v3.44h-5.26zM432.66 90.55h5.26v3.44h-5.26zM432.66 107.77h5.26v3.44h-5.26zM432.66 121.54h5.26v3.44h-5.26zM432.66 145.65h5.26v6.89h-5.26zM432.66 155.98h5.26v3.44h-5.26zM432.66 180.08h5.26v3.44h-5.26zM432.66 190.41h5.26v3.44h-5.26zM432.66 204.18h5.26v3.44h-5.26zM432.66 214.51h5.26v3.44h-5.26zM437.92 100.88h5.26v3.44h-5.26zM437.92 107.77h5.26v3.44h-5.26zM437.92 118.1h5.26v3.44h-5.26zM437.92 145.65h5.26v3.44h-5.26zM437.92 186.97h5.26v3.44h-5.26zM437.92 193.85h5.26v17.22h-5.26zM437.92 214.51h5.26v6.89h-5.26zM443.18 42.34h5.26v3.44h-5.26zM443.18 93.99h5.26v3.44h-5.26zM443.18 107.77h5.26v3.44h-5.26zM443.18 114.65h5.26v3.44h-5.26zM443.18 121.54h5.26v3.44h-5.26zM443.18 128.43h5.26v6.89h-5.26zM443.18 166.31h5.26v3.44h-5.26zM443.18 173.19h5.26v3.44h-5.26zM448.44 90.55h5.26v3.44h-5.26zM448.44 97.44h5.26v6.89h-5.26zM448.44 114.65h5.26v3.44h-5.26zM448.44 121.54h5.26v6.89h-5.26zM448.44 135.32h5.26v3.44h-5.26zM448.44 142.2h5.26v10.33h-5.26zM448.44 162.86h5.26v3.44h-5.26zM448.44 176.64h5.26v3.44h-5.26zM448.44 186.97h5.26v3.44h-5.26zM448.44 193.85h5.26v10.33h-5.26zM453.7 38.9h5.26v3.44h-5.26zM453.7 118.1h5.26v6.89h-5.26zM453.7 138.76h5.26v3.44h-5.26zM453.7 155.98h5.26v10.33h-5.26zM453.7 176.64h5.26v6.89h-5.26zM453.7 190.41h5.26v6.89h-5.26zM453.7 200.74h5.26v3.44h-5.26zM453.7 217.96h5.26v3.44h-5.26zM458.96 42.34h5.26v3.44h-5.26zM458.96 49.23h5.26v3.44h-5.26zM458.96 90.55h5.26v3.44h-5.26zM458.96 111.21h5.26v3.44h-5.26zM458.96 118.1h5.26v6.89h-5.26zM458.96 128.43h5.26v6.89h-5.26zM458.96 183.52h5.26v3.44h-5.26zM458.96 197.3h5.26v13.77h-5.26zM458.96 214.51h5.26v6.89h-5.26zM464.22 38.9h5.26v3.44h-5.26zM464.22 114.65h5.26v3.44h-5.26zM464.22 124.98h5.26v3.44h-5.26zM464.22 142.2h5.26v6.89h-5.26zM464.22 152.53h5.26v30.99h-5.26zM464.22 193.85h5.26v3.44h-5.26zM464.22 200.74h5.26v3.44h-5.26zM469.48 111.21h5.26v3.44h-5.26zM469.48 121.54h5.26v3.44h-5.26zM469.48 135.32h5.26v3.44h-5.26zM469.48 176.64h5.26v3.44h-5.26zM469.48 190.41h5.26v6.89h-5.26zM469.48 214.51h5.26v6.89h-5.26zM474.74 100.88h5.26v6.89h-5.26zM474.74 124.98h5.26v3.44h-5.26zM474.74 135.32h5.26v3.44h-5.26zM474.74 142.2h5.26v3.44h-5.26zM474.74 176.64h5.26v3.44h-5.26zM474.74 186.97h5.26v3.44h-5.26zM474.74 193.85h5.26v3.44h-5.26zM474.74 204.18h5.26v3.44h-5.26z"/>
<path fill="#1a6c36" d="M379.4 56.12h5.2v3.44h-5.2zM379.4 76.78h5.2v3.44h-5.2zM379.4 107.77h5.2v3.44h-5.2zM379.4 114.65h5.2v3.44h-5.2zM379.4 121.54h5.2v6.89h-5.2zM379.4 142.2h5.2v6.89h-5.2zM379.4 159.42h5.2v6.89h-5.2zM379.4 186.97h5.2v3.44h-5.2zM384.6 107.77h5.2v3.44h-5.2zM384.6 121.54h5.2v6.89h-5.2zM384.6 152.53h5.2v3.44h-5.2zM384.6 159.42h5.2v3.44h-5.2zM384.6 173.19h5.2v3.44h-5.2zM396.4 49.23h4.9v3.44h-4.9zM396.4 63h4.9v3.44h-4.9zM401.3 76.78h4.9v3.44h-4.9zM401.3 87.11h4.9v3.44h-4.9zM406.2 42.34h4.9v3.44h-4.9zM406.2 59.56h4.9v3.44h-4.9zM411.1 69.89h4.9v3.44h-4.9zM411.1 145.65h4.9v3.44h-4.9zM416 66.45h4.9v3.44h-4.9zM416 80.22h4.9v6.89h-4.9zM420.9 42.34h4.9v3.44h-4.9zM420.9 56.12h4.9v3.44h-4.9zM420.9 76.78h4.9v3.44h-4.9zM420.9 166.31h4.9v3.44h-4.9zM427.4 66.45h5.26v3.44h-5.26zM427.4 73.33h5.26v3.44h-5.26zM427.4 83.66h5.26v3.44h-5.26zM427.4 93.99h5.26v3.44h-5.26zM427.4 104.32h5.26v30.99h-5.26zM427.4 138.76h5.26v3.44h-5.26zM427.4 145.65h5.26v13.77h-5.26zM427.4 162.86h5.26v3.44h-5.26zM427.4 173.19h5.26v3.44h-5.26zM427.4 190.41h5.26v3.44h-5.26zM427.4 197.3h5.26v6.89h-5.26zM432.66 100.88h5.26v3.44h-5.26zM432.66 111.21h5.26v3.44h-5.26zM432.66 124.98h5.26v20.66h-5.26zM432.66 159.42h5.26v6.89h-5.26zM432.66 173.19h5.26v3.44h-5.26zM432.66 193.85h5.26v6.89h-5.26zM432.66 217.96h5.26v3.44h-5.26zM437.92 83.66h5.26v3.44h-5.26zM437.92 93.99h5.26v6.89h-5.26zM437.92 111.21h5.26v3.44h-5.26zM437.92 121.54h5.26v13.77h-5.26zM437.92 138.76h5.26v6.89h-5.26zM437.92 155.98h5.26v3.44h-5.26zM437.92 176.64h5.26v10.33h-5.26zM437.92 190.41h5.26v3.44h-5.26zM443.18 97.44h5.26v3.44h-5.26zM443.18 104.32h5.26v3.44h-5.26zM443.18 111.21h5.26v3.44h-5.26zM443.18 118.1h5.26v3.44h-5.26zM443.18 124.98h5.26v3.44h-5.26zM443.18 135.32h5.26v6.89h-5.26zM443.18 149.09h5.26v3.44h-5.26zM443.18 162.86h5.26v3.44h-5.26zM443.18 169.75h5.26v3.44h-5.26zM443.18 176.64h5.26v3.44h-5.26zM443.18 200.74h5.26v10.33h-5.26zM443.18 217.96h5.26v3.44h-5.26zM448.44 93.99h5.26v3.44h-5.26zM448.44 104.32h5.26v3.44h-5.26zM448.44 111.21h5.26v3.44h-5.26zM448.44 118.1h5.26v3.44h-5.26zM448.44 128.43h5.26v6.89h-5.26zM448.44 138.76h5.26v3.44h-5.26zM448.44 155.98h5.26v3.44h-5.26zM448.44 183.52h5.26v3.44h-5.26zM448.44 190.41h5.26v3.44h-5.26zM453.7 100.88h5.26v17.22h-5.26zM453.7 124.98h5.26v13.77h-5.26zM453.7 142.2h5.26v6.89h-5.26zM453.7 152.53h5.26v3.44h-5.26zM453.7 183.52h5.26v6.89h-5.26zM453.7 197.3h5.26v3.44h-5.26zM453.7 204.18h5.26v13.77h-5.26zM458.96 59.56h5.26v3.44h-5.26zM458.96 93.99h5.26v3.44h-5.26zM458.96 114.65h5.26v3.44h-5.26zM458.96 124.98h5.26v3.44h-5.26zM458.96 135.32h5.26v10.33h-5.26zM458.96 149.09h5.26v13.77h-5.26zM458.96 166.31h5.26v10.33h-5.26zM458.96 180.08h5.26v3.44h-5.26zM458.96 186.97h5.26v10.33h-5.26zM458.96 211.07h5.26v3.44h-5.26zM464.22 63h5.26v3.44h-5.26zM464.22 104.32h5.26v10.33h-5.26zM464.22 118.1h5.26v6.89h-5.26zM464.22 128.43h5.26v13.77h-5.26zM464.22 183.52h5.26v6.89h-5.26zM464.22 197.3h5.26v3.44h-5.26zM464.22 204.18h5.26v10.33h-5.26zM464.22 217.96h5.26v3.44h-5.26zM469.48 90.55h5.26v10.33h-5.26zM469.48 114.65h5.26v6.89h-5.26zM469.48 124.98h5.26v10.33h-5.26zM469.48 138.76h5.26v13.77h-5.26zM469.48 155.98h5.26v6.89h-5.26zM469.48 166.31h5.26v6.89h-5.26zM469.48 186.97h5.26v3.44h-5.26zM469.48 211.07h5.26v3.44h-5.26zM474.74 52.67h5.26v3.44h-5.26zM474.74 59.56h5.26v3.44h-5.26zM474.74 83.66h5.26v3.44h-5.26zM474.74 90.55h5.26v3.44h-5.26zM474.74 107.77h5.26v6.89h-5.26zM474.74 121.54h5.26v3.44h-5.26zM474.74 128.43h5.26v6.89h-5.26zM474.74 138.76h5.26v3.44h-5.26zM474.74 152.53h5.26v3.44h-5.26zM474.74 159.42h5.26v3.44h-5.26zM474.74 166.31h5.26v3.44h-5.26zM474.74 173.19h5.26v3.44h-5.26zM474.74 180.08h5.26v6.89h-5.26zM474.74 197.3h5.26v6.89h-5.26zM474.74 207.63h5.26v6.89h-5.26zM474.74 217.96h5.26v3.44h-5.26z"/>
<path fill="#1a1210" d="M379.4 111.21h5.2v3.44h-5.2zM384.6 45.79h5.2v3.44h-5.2zM384.6 56.12h5.2v3.44h-5.2zM384.6 63h5.2v3.44h-5.2zM384.6 76.78h5.2v3.44h-5.2zM384.6 83.66h5.2v3.44h-5.2zM384.6 97.44h5.2v10.33h-5.2zM384.6 111.21h5.2v6.89h-5.2zM384.6 128.43h5.2v6.89h-5.2zM384.6 138.76h5.2v6.89h-5.2zM384.6 149.09h5.2v3.44h-5.2zM384.6 155.98h5.2v3.44h-5.2zM384.6 162.86h5.2v10.33h-5.2zM384.6 190.41h5.2v3.44h-5.2zM389.8 38.9h5.2v3.44h-5.2zM389.8 56.12h5.2v6.89h-5.2zM389.8 66.45h5.2v3.44h-5.2zM389.8 80.22h5.2v3.44h-5.2zM389.8 87.11h5.2v3.44h-5.2zM389.8 100.88h5.2v3.44h-5.2zM389.8 107.77h5.2v10.33h-5.2zM389.8 121.54h5.2v6.89h-5.2zM389.8 135.32h5.2v10.33h-5.2zM389.8 152.53h5.2v13.77h-5.2zM389.8 169.75h5.2v6.89h-5.2zM396.4 69.89h4.9v3.44h-4.9zM396.4 83.66h4.9v3.44h-4.9zM396.4 100.88h4.9v3.44h-4.9zM396.4 111.21h4.9v3.44h-4.9zM396.4 149.09h4.9v3.44h-4.9zM401.3 56.12h4.9v3.44h-4.9zM406.2 52.67h4.9v3.44h-4.9zM406.2 66.45h4.9v3.44h-4.9zM406.2 73.33h4.9v3.44h-4.9zM406.2 83.66h4.9v3.44h-4.9zM406.2 97.44h4.9v3.44h-4.9zM406.2 128.43h4.9v10.33h-4.9zM406.2 149.09h4.9v6.89h-4.9zM406.2 183.52h4.9v3.44h-4.9zM406.2 207.63h4.9v3.44h-4.9zM411.1 49.23h4.9v3.44h-4.9zM411.1 56.12h4.9v3.44h-4.9zM411.1 63h4.9v3.44h-4.9zM411.1 76.78h4.9v3.44h-4.9zM411.1 87.11h4.9v6.89h-4.9zM411.1 121.54h4.9v3.44h-4.9zM411.1 162.86h4.9v3.44h-4.9zM411.1 214.51h4.9v3.44h-4.9zM416 52.67h4.9v3.44h-4.9zM416 59.56h4.9v3.44h-4.9zM416 69.89h4.9v3.44h-4.9zM416 138.76h4.9v3.44h-4.9zM420.9 52.67h4.9v3.44h-4.9zM420.9 63h4.9v3.44h-4.9zM420.9 83.66h4.9v3.44h-4.9zM427.4 49.23h5.26v3.44h-5.26zM427.4 63h5.26v3.44h-5.26zM427.4 90.55h5.26v3.44h-5.26zM427.4 100.88h5.26v3.44h-5.26zM427.4 135.32h5.26v3.44h-5.26zM427.4 159.42h5.26v3.44h-5.26zM427.4 166.31h5.26v3.44h-5.26zM427.4 180.08h5.26v3.44h-5.26zM427.4 214.51h5.26v6.89h-5.26zM432.66 80.22h5.26v6.89h-5.26zM432.66 186.97h5.26v3.44h-5.26zM432.66 200.74h5.26v3.44h-5.26zM437.92 135.32h5.26v3.44h-5.26zM437.92 149.09h5.26v3.44h-5.26zM437.92 162.86h5.26v3.44h-5.26zM443.18 66.45h5.26v3.44h-5.26zM443.18 100.88h5.26v3.44h-5.26zM443.18 142.2h5.26v6.89h-5.26zM443.18 155.98h5.26v6.89h-5.26zM443.18 190.41h5.26v10.33h-5.26zM443.18 211.07h5.26v6.89h-5.26zM448.44 69.89h5.26v3.44h-5.26zM448.44 80.22h5.26v3.44h-5.26zM448.44 159.42h5.26v3.44h-5.26zM448.44 166.31h5.26v3.44h-5.26zM448.44 173.19h5.26v3.44h-5.26zM453.7 63h5.26v3.44h-5.26zM453.7 97.44h5.26v3.44h-5.26zM453.7 149.09h5.26v3.44h-5.26zM458.96 69.89h5.26v3.44h-5.26zM458.96 76.78h5.26v3.44h-5.26zM458.96 162.86h5.26v3.44h-5.26zM464.22 100.88h5.26v3.44h-5.26zM464.22 149.09h5.26v3.44h-5.26zM464.22 190.41h5.26v3.44h-5.26zM464.22 214.51h5.26v3.44h-5.26zM469.48 73.33h5.26v6.89h-5.26zM469.48 152.53h5.26v3.44h-5.26zM469.48 173.19h5.26v3.44h-5.26zM469.48 197.3h5.26v6.89h-5.26zM474.74 118.1h5.26v3.44h-5.26zM474.74 145.65h5.26v3.44h-5.26zM474.74 155.98h5.26v3.44h-5.26z"/>
<path fill="#4a0c0e" d="M384.6 38.9h5.2v6.89h-5.2zM384.6 52.67h5.2v3.44h-5.2zM384.6 59.56h5.2v3.44h-5.2zM384.6 66.45h5.2v6.89h-5.2zM384.6 80.22h5.2v3.44h-5.2zM384.6 87.11h5.2v3.44h-5.2zM384.6 93.99h5.2v3.44h-5.2zM384.6 145.65h5.2v3.44h-5.2zM384.6 176.64h5.2v13.77h-5.2zM384.6 214.51h5.2v3.44h-5.2zM389.8 42.34h5.2v6.89h-5.2zM389.8 52.67h5.2v3.44h-5.2zM389.8 63h5.2v3.44h-5.2zM389.8 69.89h5.2v10.33h-5.2zM389.8 83.66h5.2v3.44h-5.2zM389.8 93.99h5.2v6.89h-5.2zM389.8 104.32h5.2v3.44h-5.2zM389.8 128.43h5.2v6.89h-5.2zM389.8 145.65h5.2v6.89h-5.2zM389.8 166.31h5.2v3.44h-5.2zM389.8 180.08h5.2v13.77h-5.2zM389.8 207.63h5.2v3.44h-5.2zM389.8 214.51h5.2v6.89h-5.2z"/>
<path fill="#921822" d="M396.4 52.67h4.9v3.44h-4.9zM396.4 87.11h4.9v13.77h-4.9zM396.4 107.77h4.9v3.44h-4.9zM396.4 114.65h4.9v6.89h-4.9zM396.4 124.98h4.9v10.33h-4.9zM396.4 138.76h4.9v10.33h-4.9zM396.4 152.53h4.9v3.44h-4.9zM396.4 159.42h4.9v48.21h-4.9zM396.4 211.07h4.9v6.89h-4.9zM401.3 97.44h4.9v10.33h-4.9zM401.3 111.21h4.9v6.89h-4.9zM401.3 135.32h4.9v3.44h-4.9zM401.3 149.09h4.9v3.44h-4.9zM401.3 159.42h4.9v3.44h-4.9zM401.3 166.31h4.9v20.66h-4.9zM401.3 190.41h4.9v3.44h-4.9zM401.3 200.74h4.9v17.22h-4.9zM406.2 38.9h4.9v3.44h-4.9zM406.2 93.99h4.9v3.44h-4.9zM406.2 100.88h4.9v13.77h-4.9zM406.2 121.54h4.9v3.44h-4.9zM406.2 142.2h4.9v6.89h-4.9zM406.2 155.98h4.9v13.77h-4.9zM406.2 173.19h4.9v10.33h-4.9zM406.2 190.41h4.9v17.22h-4.9zM406.2 211.07h4.9v10.33h-4.9zM411.1 93.99h4.9v27.55h-4.9zM411.1 128.43h4.9v6.89h-4.9zM411.1 138.76h4.9v3.44h-4.9zM411.1 149.09h4.9v10.33h-4.9zM411.1 166.31h4.9v6.89h-4.9zM411.1 176.64h4.9v10.33h-4.9zM411.1 190.41h4.9v6.89h-4.9zM411.1 200.74h4.9v3.44h-4.9zM411.1 207.63h4.9v6.89h-4.9zM411.1 217.96h4.9v3.44h-4.9zM416 38.9h4.9v3.44h-4.9zM416 87.11h4.9v3.44h-4.9zM416 93.99h4.9v13.77h-4.9zM416 124.98h4.9v3.44h-4.9zM416 135.32h4.9v3.44h-4.9zM416 142.2h4.9v6.89h-4.9zM416 152.53h4.9v6.89h-4.9zM416 162.86h4.9v3.44h-4.9zM416 169.75h4.9v51.65h-4.9zM420.9 66.45h4.9v3.44h-4.9zM420.9 93.99h4.9v3.44h-4.9zM420.9 100.88h4.9v6.89h-4.9zM420.9 111.21h4.9v6.89h-4.9zM420.9 121.54h4.9v6.89h-4.9zM420.9 135.32h4.9v3.44h-4.9zM420.9 142.2h4.9v24.1h-4.9zM420.9 169.75h4.9v27.55h-4.9zM420.9 200.74h4.9v10.33h-4.9zM420.9 214.51h4.9v3.44h-4.9zM427.4 38.9h5.26v10.33h-5.26zM427.4 52.67h5.26v3.44h-5.26zM427.4 59.56h5.26v3.44h-5.26zM427.4 69.89h5.26v3.44h-5.26zM427.4 76.78h5.26v6.89h-5.26zM427.4 87.11h5.26v3.44h-5.26zM427.4 183.52h5.26v3.44h-5.26zM427.4 193.85h5.26v3.44h-5.26zM427.4 204.18h5.26v3.44h-5.26zM427.4 211.07h5.26v3.44h-5.26zM432.66 38.9h5.26v13.77h-5.26zM432.66 56.12h5.26v17.22h-5.26zM432.66 93.99h5.26v3.44h-5.26zM432.66 104.32h5.26v3.44h-5.26zM432.66 114.65h5.26v3.44h-5.26zM432.66 169.75h5.26v3.44h-5.26zM437.92 38.9h5.26v3.44h-5.26zM437.92 45.79h5.26v27.55h-5.26zM437.92 76.78h5.26v6.89h-5.26zM437.92 87.11h5.26v6.89h-5.26zM437.92 152.53h5.26v3.44h-5.26zM437.92 173.19h5.26v3.44h-5.26zM443.18 38.9h5.26v3.44h-5.26zM443.18 45.79h5.26v13.77h-5.26zM443.18 63h5.26v3.44h-5.26zM443.18 69.89h5.26v24.1h-5.26zM443.18 152.53h5.26v3.44h-5.26zM443.18 186.97h5.26v3.44h-5.26zM448.44 38.9h5.26v3.44h-5.26zM448.44 45.79h5.26v24.1h-5.26zM448.44 73.33h5.26v6.89h-5.26zM448.44 83.66h5.26v6.89h-5.26zM448.44 211.07h5.26v6.89h-5.26zM453.7 45.79h5.26v17.22h-5.26zM453.7 66.45h5.26v13.77h-5.26zM453.7 83.66h5.26v6.89h-5.26zM458.96 38.9h5.26v3.44h-5.26zM458.96 45.79h5.26v3.44h-5.26zM458.96 52.67h5.26v6.89h-5.26zM458.96 66.45h5.26v3.44h-5.26zM458.96 73.33h5.26v3.44h-5.26zM458.96 83.66h5.26v6.89h-5.26zM458.96 97.44h5.26v3.44h-5.26zM458.96 107.77h5.26v3.44h-5.26zM458.96 145.65h5.26v3.44h-5.26zM464.22 42.34h5.26v20.66h-5.26zM464.22 66.45h5.26v10.33h-5.26zM464.22 80.22h5.26v13.77h-5.26zM464.22 97.44h5.26v3.44h-5.26zM469.48 38.9h5.26v3.44h-5.26zM469.48 45.79h5.26v24.1h-5.26zM469.48 83.66h5.26v6.89h-5.26zM469.48 107.77h5.26v3.44h-5.26zM469.48 204.18h5.26v3.44h-5.26zM474.74 38.9h5.26v3.44h-5.26zM474.74 45.79h5.26v6.89h-5.26zM474.74 56.12h5.26v3.44h-5.26zM474.74 63h5.26v17.22h-5.26zM474.74 87.11h5.26v3.44h-5.26zM474.74 114.65h5.26v3.44h-5.26zM474.74 214.51h5.26v3.44h-5.26z"/>
<path fill="#c81e2c" d="M384.6 200.74h5.2v3.44h-5.2zM384.6 207.63h5.2v6.89h-5.2zM384.6 217.96h5.2v3.44h-5.2zM389.8 49.23h5.2v3.44h-5.2zM389.8 176.64h5.2v3.44h-5.2zM389.8 200.74h5.2v6.89h-5.2zM389.8 211.07h5.2v3.44h-5.2zM396.4 104.32h4.9v3.44h-4.9zM396.4 207.63h4.9v3.44h-4.9zM401.3 49.23h4.9v3.44h-4.9zM401.3 152.53h4.9v3.44h-4.9zM401.3 162.86h4.9v3.44h-4.9zM401.3 193.85h4.9v6.89h-4.9zM401.3 217.96h4.9v3.44h-4.9zM406.2 114.65h4.9v3.44h-4.9zM406.2 124.98h4.9v3.44h-4.9zM406.2 138.76h4.9v3.44h-4.9zM406.2 169.75h4.9v3.44h-4.9zM411.1 66.45h4.9v3.44h-4.9zM411.1 159.42h4.9v3.44h-4.9zM411.1 173.19h4.9v3.44h-4.9zM411.1 204.18h4.9v3.44h-4.9zM416 45.79h4.9v3.44h-4.9zM416 107.77h4.9v6.89h-4.9zM416 128.43h4.9v6.89h-4.9zM416 149.09h4.9v3.44h-4.9zM416 166.31h4.9v3.44h-4.9zM420.9 97.44h4.9v3.44h-4.9zM420.9 118.1h4.9v3.44h-4.9zM420.9 197.3h4.9v3.44h-4.9zM420.9 211.07h4.9v3.44h-4.9zM420.9 217.96h4.9v3.44h-4.9zM427.4 97.44h5.26v3.44h-5.26zM432.66 52.67h5.26v3.44h-5.26zM432.66 76.78h5.26v3.44h-5.26zM432.66 87.11h5.26v3.44h-5.26zM432.66 118.1h5.26v3.44h-5.26zM432.66 176.64h5.26v3.44h-5.26zM437.92 42.34h5.26v3.44h-5.26zM437.92 73.33h5.26v3.44h-5.26zM437.92 114.65h5.26v3.44h-5.26zM437.92 159.42h5.26v3.44h-5.26zM437.92 166.31h5.26v6.89h-5.26zM443.18 59.56h5.26v3.44h-5.26zM443.18 183.52h5.26v3.44h-5.26zM448.44 169.75h5.26v3.44h-5.26zM448.44 180.08h5.26v3.44h-5.26zM448.44 204.18h5.26v3.44h-5.26zM453.7 42.34h5.26v3.44h-5.26zM453.7 90.55h5.26v6.89h-5.26zM458.96 63h5.26v3.44h-5.26zM458.96 100.88h5.26v6.89h-5.26zM458.96 176.64h5.26v3.44h-5.26zM464.22 76.78h5.26v3.44h-5.26zM464.22 93.99h5.26v3.44h-5.26zM469.48 42.34h5.26v3.44h-5.26zM469.48 100.88h5.26v6.89h-5.26zM469.48 162.86h5.26v3.44h-5.26zM469.48 183.52h5.26v3.44h-5.26zM474.74 80.22h5.26v3.44h-5.26z"/>
<path fill="#e8283a" d="M384.6 49.23h5.2v3.44h-5.2zM384.6 73.33h5.2v3.44h-5.2zM384.6 193.85h5.2v6.89h-5.2zM384.6 204.18h5.2v3.44h-5.2zM389.8 193.85h5.2v6.89h-5.2zM396.4 121.54h4.9v3.44h-4.9zM396.4 135.32h4.9v3.44h-4.9zM396.4 155.98h4.9v3.44h-4.9zM396.4 217.96h4.9v3.44h-4.9zM401.3 93.99h4.9v3.44h-4.9zM401.3 107.77h4.9v3.44h-4.9zM401.3 118.1h4.9v17.22h-4.9zM401.3 138.76h4.9v10.33h-4.9zM401.3 155.98h4.9v3.44h-4.9zM401.3 186.97h4.9v3.44h-4.9zM406.2 90.55h4.9v3.44h-4.9zM406.2 118.1h4.9v3.44h-4.9zM406.2 186.97h4.9v3.44h-4.9zM411.1 124.98h4.9v3.44h-4.9zM411.1 135.32h4.9v3.44h-4.9zM411.1 186.97h4.9v3.44h-4.9zM411.1 197.3h4.9v3.44h-4.9zM416 90.55h4.9v3.44h-4.9zM416 114.65h4.9v10.33h-4.9zM416 159.42h4.9v3.44h-4.9zM420.9 90.55h4.9v3.44h-4.9zM420.9 107.77h4.9v3.44h-4.9zM420.9 128.43h4.9v6.89h-4.9zM420.9 138.76h4.9v3.44h-4.9zM427.4 56.12h5.26v3.44h-5.26zM432.66 73.33h5.26v3.44h-5.26zM432.66 166.31h5.26v3.44h-5.26zM443.18 180.08h5.26v3.44h-5.26zM448.44 42.34h5.26v3.44h-5.26zM448.44 107.77h5.26v3.44h-5.26zM448.44 207.63h5.26v3.44h-5.26zM448.44 217.96h5.26v3.44h-5.26zM453.7 80.22h5.26v3.44h-5.26zM458.96 80.22h5.26v3.44h-5.26zM469.48 69.89h5.26v3.44h-5.26zM469.48 80.22h5.26v3.44h-5.26zM469.48 207.63h5.26v3.44h-5.26zM474.74 42.34h5.26v3.44h-5.26zM474.74 149.09h5.26v3.44h-5.26zM474.74 162.86h5.26v3.44h-5.26zM474.74 190.41h5.26v3.44h-5.26z"/>
<path fill="none" stroke="#140a08" stroke-opacity="0.55" stroke-width="0.55" d="M379.4 42.34H395M379.4 45.79H395M379.4 49.23H395M379.4 52.67H395M379.4 56.12H395M379.4 59.56H395M379.4 63H395M379.4 66.45H395M379.4 69.89H395M379.4 73.33H395M379.4 76.78H395M379.4 80.22H395M379.4 83.66H395M379.4 87.11H395M379.4 90.55H395M379.4 93.99H395M379.4 97.44H395M379.4 100.88H395M379.4 104.32H395M379.4 107.77H395M379.4 111.21H395M379.4 114.65H395M379.4 118.1H395M379.4 121.54H395M379.4 124.98H395M379.4 128.43H395M379.4 131.87H395M379.4 135.32H395M379.4 138.76H395M379.4 142.2H395M379.4 145.65H395M379.4 149.09H395M379.4 152.53H395M379.4 155.98H395M379.4 159.42H395M379.4 162.86H395M379.4 166.31H395M379.4 169.75H395M379.4 173.19H395M379.4 176.64H395M379.4 180.08H395M379.4 183.52H395M379.4 186.97H395M379.4 190.41H395M379.4 193.85H395M379.4 197.3H395M379.4 200.74H395M379.4 204.18H395M379.4 207.63H395M379.4 211.07H395M379.4 214.51H395M379.4 217.96H395M384.6 38.9V221.4M389.8 38.9V221.4M396.4 42.34H425.8M396.4 45.79H425.8M396.4 49.23H425.8M396.4 52.67H425.8M396.4 56.12H425.8M396.4 59.56H425.8M396.4 63H425.8M396.4 66.45H425.8M396.4 69.89H425.8M396.4 73.33H425.8M396.4 76.78H425.8M396.4 80.22H425.8M396.4 83.66H425.8M396.4 87.11H425.8M396.4 90.55H425.8M396.4 93.99H425.8M396.4 97.44H425.8M396.4 100.88H425.8M396.4 104.32H425.8M396.4 107.77H425.8M396.4 111.21H425.8M396.4 114.65H425.8M396.4 118.1H425.8M396.4 121.54H425.8M396.4 124.98H425.8M396.4 128.43H425.8M396.4 131.87H425.8M396.4 135.32H425.8M396.4 138.76H425.8M396.4 142.2H425.8M396.4 145.65H425.8M396.4 149.09H425.8M396.4 152.53H425.8M396.4 155.98H425.8M396.4 159.42H425.8M396.4 162.86H425.8M396.4 166.31H425.8M396.4 169.75H425.8M396.4 173.19H425.8M396.4 176.64H425.8M396.4 180.08H425.8M396.4 183.52H425.8M396.4 186.97H425.8M396.4 190.41H425.8M396.4 193.85H425.8M396.4 197.3H425.8M396.4 200.74H425.8M396.4 204.18H425.8M396.4 207.63H425.8M396.4 211.07H425.8M396.4 214.51H425.8M396.4 217.96H425.8M401.3 38.9V221.4M406.2 38.9V221.4M411.1 38.9V221.4M416 38.9V221.4M420.9 38.9V221.4M427.4 42.34H480M427.4 45.79H480M427.4 49.23H480M427.4 52.67H480M427.4 56.12H480M427.4 59.56H480M427.4 63H480M427.4 66.45H480M427.4 69.89H480M427.4 73.33H480M427.4 76.78H480M427.4 80.22H480M427.4 83.66H480M427.4 87.11H480M427.4 90.55H480M427.4 93.99H480M427.4 97.44H480M427.4 100.88H480M427.4 104.32H480M427.4 107.77H480M427.4 111.21H480M427.4 114.65H480M427.4 118.1H480M427.4 121.54H480M427.4 124.98H480M427.4 128.43H480M427.4 131.87H480M427.4 135.32H480M427.4 138.76H480M427.4 142.2H480M427.4 145.65H480M427.4 149.09H480M427.4 152.53H480M427.4 155.98H480M427.4 159.42H480M427.4 162.86H480M427.4 166.31H480M427.4 169.75H480M427.4 173.19H480M427.4 176.64H480M427.4 180.08H480M427.4 183.52H480M427.4 186.97H480M427.4 190.41H480M427.4 193.85H480M427.4 197.3H480M427.4 200.74H480M427.4 204.18H480M427.4 207.63H480M427.4 211.07H480M427.4 214.51H480M427.4 217.96H480M432.66 38.9V221.4M437.92 38.9V221.4M443.18 38.9V221.4M448.44 38.9V221.4M453.7 38.9V221.4M458.96 38.9V221.4M464.22 38.9V221.4M469.48 38.9V221.4M474.74 38.9V221.4"/>
<path d="M379.4 130.15H379.39V133.59H379.4M379.4 199.02H379.36V202.46H379.4M379.4 212.79H379.32V216.23H379.4M379.4 102.6H379.26V106.05H379.4M379.4 219.68H379.18V214.51H379.32M379.4 171.47H379.08V174.91H379.4M379.4 126.71H378.97V131.87H379.39M379.4 154.25H378.83V157.7H379.4M379.4 195.57H378.68V200.74H379.36M379.4 123.26H378.52V129.29H378.97M379.4 205.9H378.33V209.35H379.4M379.4 143.92H378.13V147.37H379.4M379.4 168.03H377.91V173.19H379.08M379.4 161.14H377.67V155.98H378.83M379.4 137.04H377.41V126.28H378.52M379.4 140.48H377.14V131.66H377.41M379.4 99.16H376.85V104.32H379.26M378.13 145.65H376.54V136.07H377.14M379.4 64.73H376.21V68.17H379.4M379.4 75.06H375.86V78.5H379.4M379.4 112.93H375.5V116.38H379.4M379.4 81.94H375.12V76.78H375.86M379.18 217.1H374.72V207.63H378.33M379.4 150.81H374.31V158.56H377.67M378.68 198.16H373.88V212.36H374.72M379.4 71.61H373.42V79.36H375.12M379.4 181.8H372.96V185.24H379.4M379.4 109.49H372.47V101.74H376.85M379.4 57.84H371.97V61.28H379.4M379.4 119.82H371.45V140.86H376.54M374.31 154.68H370.91V130.34H371.45M379.4 95.72H370.35V105.62H372.47M379.4 164.58H369.77V142.51H370.91M375.5 114.65H369.18V153.55H369.77M379.4 188.69H368.57V183.52H372.96M379.4 192.13H367.94V186.11H368.57M373.88 205.26H367.3V189.12H367.94M376.21 66.45H366.64V59.56H371.97M379.4 85.39H365.96V75.49H373.42M366.64 63H365.26V80.44H365.96M379.4 178.36H364.54V170.61H377.91M379.4 54.4H363.81V71.72H365.26M379.4 88.83H363.06V63.06H363.81M370.35 100.67H362.29V134.1H369.18M379.4 44.07H361.5V47.51H379.4M364.54 174.48H360.7V117.38H362.29M367.3 197.19H359.88V145.93H360.7M379.4 50.95H359.04V45.79H361.5M363.06 75.94H358.18V48.37H359.04M379.4 40.62H357.3V62.16H358.18M379.4 92.27H356.41V171.56H359.88M357.3 51.39H355.5V131.92H356.41" fill="none" stroke="#9494c0" stroke-width="0.7"/>
<g font-weight="bold" style="filter:grayscale(1)" transform="matrix(0.1 0.001 0 0.1000 482.5 0)"><text y="417.35">cg84140780</text><text y="452.44">cg67172314</text><text y="487.54">cg01540486</text><text y="522.64">cg44318024</text><text y="557.73">cg32536593</text><text y="592.83">cg87780063</text><text y="627.92">cg43699192</text><text y="663.02">cg00119252</text><text y="698.12">cg00201019</text><text y="733.21">cg38161333</text><text y="768.31">cg00147121</text><text y="803.41">cg45564054</text><text y="838.5">cg05598749</text><text y="873.6">cg60681570</text><text y="908.69">cg93194260</text><text y="943.79">cg34005717</text><text y="978.89">cg79584924</text><text y="1013.98">cg37211781</text><text y="1049.08">cg55166160</text><text y="1084.17">cg34468826</text><text y="1119.27">cg37289905</text><text y="1154.37">cg58278527</text><text y="1189.46">cg49325738</text><text y="1224.56">cg44922359</text><text y="1259.66">cg52353412</text><text y="1294.75">cg36224464</text><text y="1329.85">cg11436700</text><text y="1364.94">cg63847024</text><text y="1400.04">cg60369963</text><text y="1435.14">cg32176541</text><text y="1470.23">cg36246770</text><text y="1505.33">cg68250671</text><text y="1540.43">cg48323851</text><text y="1575.52">cg78378058</text><text y="1610.62">cg67326819</text><text y="1645.71">cg04466001</text><text y="1680.81">cg65941346</text><text y="1715.91">cg36732213</text><text y="1751">cg83256748</text><text y="1786.1">cg75346462</text><text y="1821.19">cg04534577</text><text y="1856.29">cg91524601</text><text y="1891.39">cg52859003</text><text y="1926.48">cg44919232</text><text y="1961.58">cg52368299</text><text y="1996.68">cg84373817</text><text y="2031.77">cg81463277</text><text y="2066.87">cg07727372</text><text y="2101.96">cg90257974</text><text y="2137.06">cg56612500</text><text y="2172.16">cg05187720</text><text y="2207.25">cg62515578</text></g>
<g font-weight="bold" style="filter:grayscale(1)" transform="matrix(0.1 0.001 0 0.1000 504.1 0)"><text y="417.35">CASP8</text><text y="452.44">RASSF1</text><text y="487.54">LRRC4</text><text y="522.64">BCL11</text><text y="557.73">CASP8</text><text y="592.83">SLC6A20</text><text y="627.92">TNXB</text><text y="663.02">GRID2IP</text><text y="698.12">SALL1</text><text y="733.21">TWIST2</text><text y="768.31">SOX17</text><text y="803.41">GSC</text><text y="838.5">GRID2IP</text><text y="873.6">SERPINB5</text><text y="908.69">PRKCB</text><text y="943.79">PAX6</text><text y="978.89">ZNF154</text><text y="1013.98">KCNK12</text><text y="1049.08">NPY</text><text y="1084.17">KCNK12</text><text y="1119.27">HOXD10</text><text y="1154.37">ONECUT1</text><text y="1189.46">LHX2</text><text y="1224.56">LRRC4</text><text y="1259.66">EBF3</text><text y="1294.75">NKX2-5</text><text y="1329.85">LOX</text><text y="1364.94">TBX15</text><text y="1400.04">HOXD10</text><text y="1435.14">HIC1</text><text y="1470.23">GALNT13</text><text y="1505.33">CTNS</text><text y="1540.43">SLC6A20</text><text y="1575.52">TBX5</text><text y="1610.62">CDH13</text><text y="1645.71">HIC1</text><text y="1680.81">PRKCB</text><text y="1715.91">SPON1</text><text y="1751">FOXC1</text><text y="1786.1">KLF11</text><text y="1821.19">KCNA1</text><text y="1856.29">PCDHGA12</text><text y="1891.39">ABR</text><text y="1926.48">FGF5</text><text y="1961.58">VSTM2L</text><text y="1996.68">TWIST2</text><text y="2031.77">ZNF582</text><text y="2066.87">CDKN2A</text><text y="2101.96">PITX2</text><text y="2137.06">FAM150A</text><text y="2172.16">ZNF154</text><text y="2207.25">TMEFF2</text></g>
<g font-size="2.7" fill="#333" font-weight="bold" style="filter:grayscale(1)"><text transform="translate(382.81,37) rotate(-90)" textLength="6.2" lengthAdjust="spacingAndGlyphs">Plt</text><text transform="translate(388.01,37) rotate(-90)" textLength="11.4" lengthAdjust="spacingAndGlyphs">Normal</text><text transform="translate(393.21,37) rotate(-90)" textLength="22.8" lengthAdjust="spacingAndGlyphs">Normal vs tumor</text><text transform="translate(399.66,37) rotate(-90)" textLength="5.2" lengthAdjust="spacingAndGlyphs">N-01</text><text transform="translate(404.56,37) rotate(-90)" textLength="5.2" lengthAdjust="spacingAndGlyphs">N-02</text><text transform="translate(409.46,37) rotate(-90)" textLength="5.2" lengthAdjust="spacingAndGlyphs">N-03</text><text transform="translate(414.36,37) rotate(-90)" textLength="5.2" lengthAdjust="spacingAndGlyphs">N-04</text><text transform="translate(419.26,37) rotate(-90)" textLength="5.2" lengthAdjust="spacingAndGlyphs">N-05</text><text transform="translate(424.16,37) rotate(-90)" textLength="5.2" lengthAdjust="spacingAndGlyphs">N-06</text><text transform="translate(430.84,37) rotate(-90)" textLength="10.4" lengthAdjust="spacingAndGlyphs">1-2-A-1</text><text transform="translate(436.1,37) rotate(-90)" textLength="10.4" lengthAdjust="spacingAndGlyphs">1-2-A-1</text><text transform="translate(441.36,37) rotate(-90)" textLength="10.4" lengthAdjust="spacingAndGlyphs">1-2-A-1</text><text transform="translate(446.62,37) rotate(-90)" textLength="10.4" lengthAdjust="spacingAndGlyphs">1-2-A-1</text><text transform="translate(451.88,37) rotate(-90)" textLength="10.4" lengthAdjust="spacingAndGlyphs">1-2-A-1</text><text transform="translate(457.14,37) rotate(-90)" textLength="10.4" lengthAdjust="spacingAndGlyphs">1-2-A-1</text><text transform="translate(462.4,37) rotate(-90)" textLength="10.4" lengthAdjust="spacingAndGlyphs">1-2-A-1</text><text transform="translate(467.66,37) rotate(-90)" textLength="10.4" lengthAdjust="spacingAndGlyphs">1-2-A-1</text><text transform="translate(472.92,37) rotate(-90)" textLength="10.4" lengthAdjust="spacingAndGlyphs">1-2-A-1</text><text transform="translate(478.18,37) rotate(-90)" textLength="12.2" lengthAdjust="spacingAndGlyphs">10-2-A-1</text></g>
<defs><linearGradient id="cbC" x1="0" x2="1" y1="0" y2="0"><stop offset="0" stop-color="#74c45a"/><stop offset="0.15" stop-color="#3cb65a"/><stop offset="0.35" stop-color="#157a36"/><stop offset="0.52" stop-color="#070505"/><stop offset="0.72" stop-color="#600c12"/><stop offset="1" stop-color="#e82c38"/></linearGradient></defs>
<rect x="378.7" y="2.5" width="101.4" height="4.9" fill="url(#cbC)"/>
<g font-size="2.7" fill="#333" style="filter:grayscale(1)"><text x="378.7" y="10.4" textLength="4.2" lengthAdjust="spacingAndGlyphs">0.0</text><text x="426.87" y="10.4" textLength="4.0" lengthAdjust="spacingAndGlyphs">1.1</text><text x="475.9" y="10.4" textLength="4.2" lengthAdjust="spacingAndGlyphs">4.0</text></g>
<text x="360.0" y="10.2" font-size="12.0" font-weight="bold" fill="#000">C</text>
</g>
</svg></body></html>
